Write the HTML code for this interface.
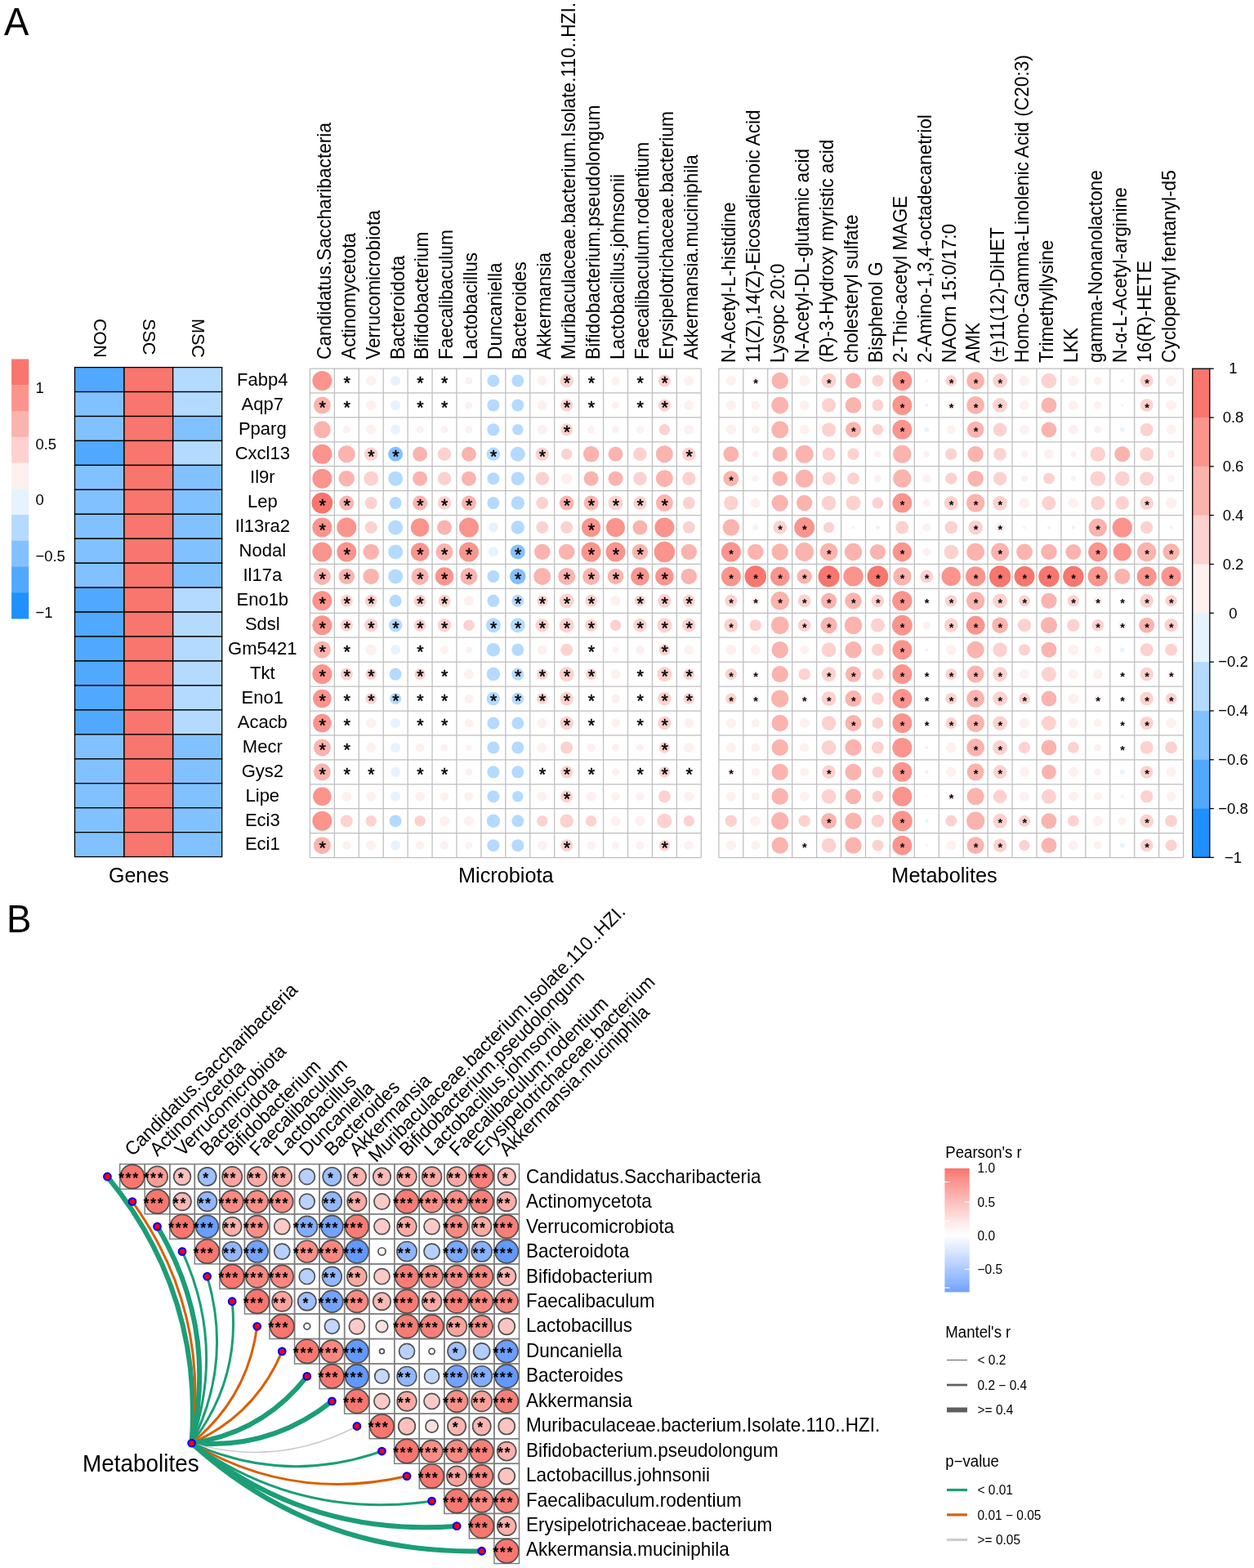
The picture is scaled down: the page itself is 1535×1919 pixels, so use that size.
<!DOCTYPE html><html><head><meta charset="utf-8"><title>Figure</title>
<style>html,body{margin:0;padding:0;background:#fff;}svg{display:block;}text{font-family:"Liberation Sans", Arial, Helvetica, sans-serif;fill:#000;}</style></head><body>
<svg width="1535" height="1919" viewBox="0 0 1535 1919">
<rect x="0" y="0" width="1535" height="1919" fill="#fff"/>
<text transform="translate(5,42.8) scale(1,1.05)" font-size="45.5">A</text>
<text transform="translate(8,1140.6) scale(1,1.05)" font-size="45.5">B</text>
<rect x="14.1" y="439.5" width="21.1" height="32.15" fill="#F8766D"/>
<rect x="14.1" y="471.25" width="21.1" height="32.15" fill="#FA948D"/>
<rect x="14.1" y="503" width="21.1" height="32.15" fill="#FBB3AE"/>
<rect x="14.1" y="534.75" width="21.1" height="32.15" fill="#FDD1CE"/>
<rect x="14.1" y="566.5" width="21.1" height="32.15" fill="#FEF0EF"/>
<rect x="14.1" y="598.25" width="21.1" height="32.15" fill="#E6F3FF"/>
<rect x="14.1" y="630" width="21.1" height="32.15" fill="#B4DAFF"/>
<rect x="14.1" y="661.75" width="21.1" height="32.15" fill="#82C1FF"/>
<rect x="14.1" y="693.5" width="21.1" height="32.15" fill="#50A9FF"/>
<rect x="14.1" y="725.25" width="21.1" height="32.15" fill="#1E90FF"/>
<text transform="translate(43.4,481) scale(1,1.04)" font-size="18.5">1</text>
<text transform="translate(43.4,549.7) scale(1,1.04)" font-size="18.5">0.5</text>
<text transform="translate(43.4,618.4) scale(1,1.04)" font-size="18.5">0</text>
<text transform="translate(43.4,687.1) scale(1,1.04)" font-size="18.5">−0.5</text>
<text transform="translate(43.4,755.8) scale(1,1.04)" font-size="18.5">−1</text>
<g stroke="#000" stroke-width="1.3">
<rect x="91.5" y="449.6" width="60.5" height="29.95" fill="#50A9FF"/>
<rect x="152" y="449.6" width="59.7" height="29.95" fill="#F8766D"/>
<rect x="211.7" y="449.6" width="60" height="29.95" fill="#B4DAFF"/>
<rect x="91.5" y="479.55" width="60.5" height="29.95" fill="#82C1FF"/>
<rect x="152" y="479.55" width="59.7" height="29.95" fill="#F8766D"/>
<rect x="211.7" y="479.55" width="60" height="29.95" fill="#B4DAFF"/>
<rect x="91.5" y="509.5" width="60.5" height="29.95" fill="#82C1FF"/>
<rect x="152" y="509.5" width="59.7" height="29.95" fill="#F8766D"/>
<rect x="211.7" y="509.5" width="60" height="29.95" fill="#82C1FF"/>
<rect x="91.5" y="539.45" width="60.5" height="29.95" fill="#50A9FF"/>
<rect x="152" y="539.45" width="59.7" height="29.95" fill="#F8766D"/>
<rect x="211.7" y="539.45" width="60" height="29.95" fill="#B4DAFF"/>
<rect x="91.5" y="569.4" width="60.5" height="29.95" fill="#82C1FF"/>
<rect x="152" y="569.4" width="59.7" height="29.95" fill="#F8766D"/>
<rect x="211.7" y="569.4" width="60" height="29.95" fill="#82C1FF"/>
<rect x="91.5" y="599.35" width="60.5" height="29.95" fill="#82C1FF"/>
<rect x="152" y="599.35" width="59.7" height="29.95" fill="#F8766D"/>
<rect x="211.7" y="599.35" width="60" height="29.95" fill="#82C1FF"/>
<rect x="91.5" y="629.3" width="60.5" height="29.95" fill="#82C1FF"/>
<rect x="152" y="629.3" width="59.7" height="29.95" fill="#F8766D"/>
<rect x="211.7" y="629.3" width="60" height="29.95" fill="#82C1FF"/>
<rect x="91.5" y="659.25" width="60.5" height="29.95" fill="#82C1FF"/>
<rect x="152" y="659.25" width="59.7" height="29.95" fill="#F8766D"/>
<rect x="211.7" y="659.25" width="60" height="29.95" fill="#82C1FF"/>
<rect x="91.5" y="689.2" width="60.5" height="29.95" fill="#82C1FF"/>
<rect x="152" y="689.2" width="59.7" height="29.95" fill="#F8766D"/>
<rect x="211.7" y="689.2" width="60" height="29.95" fill="#82C1FF"/>
<rect x="91.5" y="719.15" width="60.5" height="29.95" fill="#50A9FF"/>
<rect x="152" y="719.15" width="59.7" height="29.95" fill="#F8766D"/>
<rect x="211.7" y="719.15" width="60" height="29.95" fill="#B4DAFF"/>
<rect x="91.5" y="749.1" width="60.5" height="29.95" fill="#50A9FF"/>
<rect x="152" y="749.1" width="59.7" height="29.95" fill="#F8766D"/>
<rect x="211.7" y="749.1" width="60" height="29.95" fill="#B4DAFF"/>
<rect x="91.5" y="779.05" width="60.5" height="29.95" fill="#50A9FF"/>
<rect x="152" y="779.05" width="59.7" height="29.95" fill="#F8766D"/>
<rect x="211.7" y="779.05" width="60" height="29.95" fill="#B4DAFF"/>
<rect x="91.5" y="809" width="60.5" height="29.95" fill="#50A9FF"/>
<rect x="152" y="809" width="59.7" height="29.95" fill="#F8766D"/>
<rect x="211.7" y="809" width="60" height="29.95" fill="#B4DAFF"/>
<rect x="91.5" y="838.95" width="60.5" height="29.95" fill="#50A9FF"/>
<rect x="152" y="838.95" width="59.7" height="29.95" fill="#F8766D"/>
<rect x="211.7" y="838.95" width="60" height="29.95" fill="#B4DAFF"/>
<rect x="91.5" y="868.9" width="60.5" height="29.95" fill="#50A9FF"/>
<rect x="152" y="868.9" width="59.7" height="29.95" fill="#F8766D"/>
<rect x="211.7" y="868.9" width="60" height="29.95" fill="#B4DAFF"/>
<rect x="91.5" y="898.85" width="60.5" height="29.95" fill="#82C1FF"/>
<rect x="152" y="898.85" width="59.7" height="29.95" fill="#F8766D"/>
<rect x="211.7" y="898.85" width="60" height="29.95" fill="#82C1FF"/>
<rect x="91.5" y="928.8" width="60.5" height="29.95" fill="#82C1FF"/>
<rect x="152" y="928.8" width="59.7" height="29.95" fill="#F8766D"/>
<rect x="211.7" y="928.8" width="60" height="29.95" fill="#82C1FF"/>
<rect x="91.5" y="958.75" width="60.5" height="29.95" fill="#82C1FF"/>
<rect x="152" y="958.75" width="59.7" height="29.95" fill="#F8766D"/>
<rect x="211.7" y="958.75" width="60" height="29.95" fill="#82C1FF"/>
<rect x="91.5" y="988.7" width="60.5" height="29.95" fill="#82C1FF"/>
<rect x="152" y="988.7" width="59.7" height="29.95" fill="#F8766D"/>
<rect x="211.7" y="988.7" width="60" height="29.95" fill="#82C1FF"/>
<rect x="91.5" y="1018.65" width="60.5" height="29.95" fill="#82C1FF"/>
<rect x="152" y="1018.65" width="59.7" height="29.95" fill="#F8766D"/>
<rect x="211.7" y="1018.65" width="60" height="29.95" fill="#82C1FF"/>
</g>
<text transform="translate(114.75,390) rotate(90) scale(1,1.04)" font-size="21.6">CON</text>
<text transform="translate(174.85,390) rotate(90) scale(1,1.04)" font-size="21.6">SSC</text>
<text transform="translate(234.7,390) rotate(90) scale(1,1.04)" font-size="21.6">MSC</text>
<text transform="translate(321.3,471.76) scale(1,1.04)" font-size="22" text-anchor="middle">Fabp4</text>
<text transform="translate(321.3,501.69) scale(1,1.04)" font-size="22" text-anchor="middle">Aqp7</text>
<text transform="translate(321.3,531.62) scale(1,1.04)" font-size="22" text-anchor="middle">Pparg</text>
<text transform="translate(321.3,561.55) scale(1,1.04)" font-size="22" text-anchor="middle">Cxcl13</text>
<text transform="translate(321.3,591.48) scale(1,1.04)" font-size="22" text-anchor="middle">Il9r</text>
<text transform="translate(321.3,621.41) scale(1,1.04)" font-size="22" text-anchor="middle">Lep</text>
<text transform="translate(321.3,651.34) scale(1,1.04)" font-size="22" text-anchor="middle">Il13ra2</text>
<text transform="translate(321.3,681.27) scale(1,1.04)" font-size="22" text-anchor="middle">Nodal</text>
<text transform="translate(321.3,711.2) scale(1,1.04)" font-size="22" text-anchor="middle">Il17a</text>
<text transform="translate(321.3,741.13) scale(1,1.04)" font-size="22" text-anchor="middle">Eno1b</text>
<text transform="translate(321.3,771.06) scale(1,1.04)" font-size="22" text-anchor="middle">Sdsl</text>
<text transform="translate(321.3,800.99) scale(1,1.04)" font-size="22" text-anchor="middle">Gm5421</text>
<text transform="translate(321.3,830.92) scale(1,1.04)" font-size="22" text-anchor="middle">Tkt</text>
<text transform="translate(321.3,860.86) scale(1,1.04)" font-size="22" text-anchor="middle">Eno1</text>
<text transform="translate(321.3,890.78) scale(1,1.04)" font-size="22" text-anchor="middle">Acacb</text>
<text transform="translate(321.3,920.71) scale(1,1.04)" font-size="22" text-anchor="middle">Mecr</text>
<text transform="translate(321.3,950.64) scale(1,1.04)" font-size="22" text-anchor="middle">Gys2</text>
<text transform="translate(321.3,980.57) scale(1,1.04)" font-size="22" text-anchor="middle">Lipe</text>
<text transform="translate(321.3,1010.5) scale(1,1.04)" font-size="22" text-anchor="middle">Eci3</text>
<text transform="translate(321.3,1040.43) scale(1,1.04)" font-size="22" text-anchor="middle">Eci1</text>
<text transform="translate(169.8,1080) scale(1,1.04)" font-size="25" text-anchor="middle">Genes</text>
<circle cx="394.36" cy="465.96" r="12" fill="#FA948D"/>
<circle cx="424.29" cy="465.96" r="3" fill="#FEF0EF"/>
<circle cx="454.22" cy="465.96" r="6" fill="#FEF0EF"/>
<circle cx="484.15" cy="465.96" r="6" fill="#E6F3FF"/>
<circle cx="514.09" cy="465.96" r="3" fill="#FEF0EF"/>
<circle cx="544.01" cy="465.96" r="3" fill="#FEF0EF"/>
<circle cx="573.94" cy="465.96" r="4.5" fill="#FEF0EF"/>
<circle cx="603.88" cy="465.96" r="7.5" fill="#B4DAFF"/>
<circle cx="633.8" cy="465.96" r="7.5" fill="#B4DAFF"/>
<circle cx="663.73" cy="465.96" r="6" fill="#FEF0EF"/>
<circle cx="693.66" cy="465.96" r="8.25" fill="#FDD1CE"/>
<circle cx="723.6" cy="465.96" r="3" fill="#FEF0EF"/>
<circle cx="753.52" cy="465.96" r="5.25" fill="#FEF0EF"/>
<circle cx="783.45" cy="465.96" r="1.5" fill="#FEF0EF"/>
<circle cx="813.38" cy="465.96" r="7.5" fill="#FDD1CE"/>
<circle cx="843.32" cy="465.96" r="6" fill="#FEF0EF"/>
<circle cx="394.36" cy="495.89" r="10.5" fill="#FBB3AE"/>
<circle cx="424.29" cy="495.89" r="1.5" fill="#FEF0EF"/>
<circle cx="454.22" cy="495.89" r="6" fill="#FEF0EF"/>
<circle cx="484.15" cy="495.89" r="6" fill="#E6F3FF"/>
<circle cx="514.09" cy="495.89" r="1.5" fill="#FEF0EF"/>
<circle cx="544.01" cy="495.89" r="1.5" fill="#FEF0EF"/>
<circle cx="573.94" cy="495.89" r="4.5" fill="#FEF0EF"/>
<circle cx="603.88" cy="495.89" r="7.5" fill="#B4DAFF"/>
<circle cx="633.8" cy="495.89" r="7.5" fill="#B4DAFF"/>
<circle cx="663.73" cy="495.89" r="6" fill="#FEF0EF"/>
<circle cx="693.66" cy="495.89" r="7.5" fill="#FDD1CE"/>
<circle cx="723.6" cy="495.89" r="1.5" fill="#FEF0EF"/>
<circle cx="753.52" cy="495.89" r="4.5" fill="#FEF0EF"/>
<circle cx="783.45" cy="495.89" r="1.5" fill="#FEF0EF"/>
<circle cx="813.38" cy="495.89" r="7.5" fill="#FDD1CE"/>
<circle cx="843.32" cy="495.89" r="6" fill="#FEF0EF"/>
<circle cx="394.36" cy="525.83" r="10.5" fill="#FBB3AE"/>
<circle cx="424.29" cy="525.83" r="4.5" fill="#FEF0EF"/>
<circle cx="454.22" cy="525.83" r="6" fill="#FEF0EF"/>
<circle cx="484.15" cy="525.83" r="6" fill="#E6F3FF"/>
<circle cx="514.09" cy="525.83" r="4.5" fill="#FEF0EF"/>
<circle cx="544.01" cy="525.83" r="4.5" fill="#FEF0EF"/>
<circle cx="573.94" cy="525.83" r="4.5" fill="#FEF0EF"/>
<circle cx="603.88" cy="525.83" r="7.5" fill="#B4DAFF"/>
<circle cx="633.8" cy="525.83" r="6.75" fill="#B4DAFF"/>
<circle cx="663.73" cy="525.83" r="6" fill="#FEF0EF"/>
<circle cx="693.66" cy="525.83" r="7.5" fill="#FDD1CE"/>
<circle cx="723.6" cy="525.83" r="4.5" fill="#FEF0EF"/>
<circle cx="753.52" cy="525.83" r="4.5" fill="#FEF0EF"/>
<circle cx="783.45" cy="525.83" r="4.5" fill="#FEF0EF"/>
<circle cx="813.38" cy="525.83" r="6.75" fill="#FDD1CE"/>
<circle cx="843.32" cy="525.83" r="6" fill="#FEF0EF"/>
<circle cx="394.36" cy="555.75" r="12" fill="#FA948D"/>
<circle cx="424.29" cy="555.75" r="10.5" fill="#FBB3AE"/>
<circle cx="454.22" cy="555.75" r="8.25" fill="#FDD1CE"/>
<circle cx="484.15" cy="555.75" r="9" fill="#82C1FF"/>
<circle cx="514.09" cy="555.75" r="9" fill="#FBB3AE"/>
<circle cx="544.01" cy="555.75" r="8.25" fill="#FDD1CE"/>
<circle cx="573.94" cy="555.75" r="9" fill="#FBB3AE"/>
<circle cx="603.88" cy="555.75" r="8.25" fill="#B4DAFF"/>
<circle cx="633.8" cy="555.75" r="9" fill="#B4DAFF"/>
<circle cx="663.73" cy="555.75" r="8.25" fill="#FDD1CE"/>
<circle cx="693.66" cy="555.75" r="6.75" fill="#FDD1CE"/>
<circle cx="723.6" cy="555.75" r="9.75" fill="#FBB3AE"/>
<circle cx="753.52" cy="555.75" r="9" fill="#FBB3AE"/>
<circle cx="783.45" cy="555.75" r="8.25" fill="#FDD1CE"/>
<circle cx="813.38" cy="555.75" r="10.5" fill="#FBB3AE"/>
<circle cx="843.32" cy="555.75" r="8.25" fill="#FDD1CE"/>
<circle cx="394.36" cy="585.68" r="12" fill="#FA948D"/>
<circle cx="424.29" cy="585.68" r="9.75" fill="#FBB3AE"/>
<circle cx="454.22" cy="585.68" r="9" fill="#FDD1CE"/>
<circle cx="484.15" cy="585.68" r="9" fill="#B4DAFF"/>
<circle cx="514.09" cy="585.68" r="9" fill="#FBB3AE"/>
<circle cx="544.01" cy="585.68" r="8.25" fill="#FDD1CE"/>
<circle cx="573.94" cy="585.68" r="9" fill="#FBB3AE"/>
<circle cx="603.88" cy="585.68" r="7.5" fill="#B4DAFF"/>
<circle cx="633.8" cy="585.68" r="8.25" fill="#B4DAFF"/>
<circle cx="663.73" cy="585.68" r="8.25" fill="#FDD1CE"/>
<circle cx="693.66" cy="585.68" r="6.75" fill="#FEF0EF"/>
<circle cx="723.6" cy="585.68" r="9" fill="#FBB3AE"/>
<circle cx="753.52" cy="585.68" r="9" fill="#FBB3AE"/>
<circle cx="783.45" cy="585.68" r="8.25" fill="#FDD1CE"/>
<circle cx="813.38" cy="585.68" r="10.5" fill="#FBB3AE"/>
<circle cx="843.32" cy="585.68" r="8.25" fill="#FDD1CE"/>
<circle cx="394.36" cy="615.62" r="12.9" fill="#F8766D"/>
<circle cx="424.29" cy="615.62" r="9" fill="#FBB3AE"/>
<circle cx="454.22" cy="615.62" r="7.5" fill="#FDD1CE"/>
<circle cx="484.15" cy="615.62" r="7.5" fill="#B4DAFF"/>
<circle cx="514.09" cy="615.62" r="9" fill="#FBB3AE"/>
<circle cx="544.01" cy="615.62" r="8.25" fill="#FDD1CE"/>
<circle cx="573.94" cy="615.62" r="9" fill="#FBB3AE"/>
<circle cx="603.88" cy="615.62" r="7.5" fill="#B4DAFF"/>
<circle cx="633.8" cy="615.62" r="8.25" fill="#B4DAFF"/>
<circle cx="663.73" cy="615.62" r="7.5" fill="#FDD1CE"/>
<circle cx="693.66" cy="615.62" r="9" fill="#FBB3AE"/>
<circle cx="723.6" cy="615.62" r="9" fill="#FBB3AE"/>
<circle cx="753.52" cy="615.62" r="9" fill="#FDD1CE"/>
<circle cx="783.45" cy="615.62" r="8.25" fill="#FDD1CE"/>
<circle cx="813.38" cy="615.62" r="10.5" fill="#FBB3AE"/>
<circle cx="843.32" cy="615.62" r="7.5" fill="#FDD1CE"/>
<circle cx="394.36" cy="645.54" r="12" fill="#FA948D"/>
<circle cx="424.29" cy="645.54" r="12" fill="#FA948D"/>
<circle cx="454.22" cy="645.54" r="7.5" fill="#FDD1CE"/>
<circle cx="484.15" cy="645.54" r="9" fill="#B4DAFF"/>
<circle cx="514.09" cy="645.54" r="11.25" fill="#FA948D"/>
<circle cx="544.01" cy="645.54" r="9" fill="#FBB3AE"/>
<circle cx="573.94" cy="645.54" r="12" fill="#FA948D"/>
<circle cx="603.88" cy="645.54" r="6" fill="#E6F3FF"/>
<circle cx="633.8" cy="645.54" r="8.25" fill="#B4DAFF"/>
<circle cx="663.73" cy="645.54" r="7.5" fill="#FDD1CE"/>
<circle cx="693.66" cy="645.54" r="7.5" fill="#FDD1CE"/>
<circle cx="723.6" cy="645.54" r="11.55" fill="#FA948D"/>
<circle cx="753.52" cy="645.54" r="11.55" fill="#FA948D"/>
<circle cx="783.45" cy="645.54" r="9" fill="#FBB3AE"/>
<circle cx="813.38" cy="645.54" r="12" fill="#FA948D"/>
<circle cx="843.32" cy="645.54" r="7.5" fill="#FDD1CE"/>
<circle cx="394.36" cy="675.48" r="12" fill="#FA948D"/>
<circle cx="424.29" cy="675.48" r="12" fill="#FA948D"/>
<circle cx="454.22" cy="675.48" r="9.75" fill="#FBB3AE"/>
<circle cx="484.15" cy="675.48" r="9" fill="#B4DAFF"/>
<circle cx="514.09" cy="675.48" r="11.25" fill="#FA948D"/>
<circle cx="544.01" cy="675.48" r="10.5" fill="#FBB3AE"/>
<circle cx="573.94" cy="675.48" r="12" fill="#FA948D"/>
<circle cx="603.88" cy="675.48" r="6" fill="#E6F3FF"/>
<circle cx="633.8" cy="675.48" r="9" fill="#82C1FF"/>
<circle cx="663.73" cy="675.48" r="9.75" fill="#FBB3AE"/>
<circle cx="693.66" cy="675.48" r="9.75" fill="#FBB3AE"/>
<circle cx="723.6" cy="675.48" r="12" fill="#FA948D"/>
<circle cx="753.52" cy="675.48" r="12" fill="#FA948D"/>
<circle cx="783.45" cy="675.48" r="9.75" fill="#FBB3AE"/>
<circle cx="813.38" cy="675.48" r="12.75" fill="#FA948D"/>
<circle cx="843.32" cy="675.48" r="9.75" fill="#FBB3AE"/>
<circle cx="394.36" cy="705.4" r="10.5" fill="#FBB3AE"/>
<circle cx="424.29" cy="705.4" r="9.75" fill="#FBB3AE"/>
<circle cx="454.22" cy="705.4" r="9.75" fill="#FBB3AE"/>
<circle cx="484.15" cy="705.4" r="9" fill="#B4DAFF"/>
<circle cx="514.09" cy="705.4" r="10.5" fill="#FBB3AE"/>
<circle cx="544.01" cy="705.4" r="11.25" fill="#FA948D"/>
<circle cx="573.94" cy="705.4" r="10.5" fill="#FBB3AE"/>
<circle cx="603.88" cy="705.4" r="7.5" fill="#B4DAFF"/>
<circle cx="633.8" cy="705.4" r="9.75" fill="#82C1FF"/>
<circle cx="663.73" cy="705.4" r="10.5" fill="#FBB3AE"/>
<circle cx="693.66" cy="705.4" r="10.5" fill="#FBB3AE"/>
<circle cx="723.6" cy="705.4" r="10.5" fill="#FBB3AE"/>
<circle cx="753.52" cy="705.4" r="9.75" fill="#FBB3AE"/>
<circle cx="783.45" cy="705.4" r="11.25" fill="#FA948D"/>
<circle cx="813.38" cy="705.4" r="11.25" fill="#FA948D"/>
<circle cx="843.32" cy="705.4" r="9.75" fill="#FBB3AE"/>
<circle cx="394.36" cy="735.34" r="12" fill="#FA948D"/>
<circle cx="424.29" cy="735.34" r="7.5" fill="#FDD1CE"/>
<circle cx="454.22" cy="735.34" r="7.5" fill="#FDD1CE"/>
<circle cx="484.15" cy="735.34" r="7.5" fill="#B4DAFF"/>
<circle cx="514.09" cy="735.34" r="7.5" fill="#FDD1CE"/>
<circle cx="544.01" cy="735.34" r="7.5" fill="#FDD1CE"/>
<circle cx="573.94" cy="735.34" r="6" fill="#FEF0EF"/>
<circle cx="603.88" cy="735.34" r="7.5" fill="#B4DAFF"/>
<circle cx="633.8" cy="735.34" r="7.5" fill="#B4DAFF"/>
<circle cx="663.73" cy="735.34" r="6.75" fill="#FDD1CE"/>
<circle cx="693.66" cy="735.34" r="9" fill="#FDD1CE"/>
<circle cx="723.6" cy="735.34" r="7.5" fill="#FDD1CE"/>
<circle cx="753.52" cy="735.34" r="6" fill="#FEF0EF"/>
<circle cx="783.45" cy="735.34" r="6.75" fill="#FDD1CE"/>
<circle cx="813.38" cy="735.34" r="8.25" fill="#FDD1CE"/>
<circle cx="843.32" cy="735.34" r="7.5" fill="#FDD1CE"/>
<circle cx="394.36" cy="765.26" r="12" fill="#FA948D"/>
<circle cx="424.29" cy="765.26" r="7.5" fill="#FDD1CE"/>
<circle cx="454.22" cy="765.26" r="8.25" fill="#FDD1CE"/>
<circle cx="484.15" cy="765.26" r="8.25" fill="#B4DAFF"/>
<circle cx="514.09" cy="765.26" r="7.5" fill="#FDD1CE"/>
<circle cx="544.01" cy="765.26" r="8.25" fill="#FDD1CE"/>
<circle cx="573.94" cy="765.26" r="6.75" fill="#FDD1CE"/>
<circle cx="603.88" cy="765.26" r="9" fill="#B4DAFF"/>
<circle cx="633.8" cy="765.26" r="9" fill="#B4DAFF"/>
<circle cx="663.73" cy="765.26" r="8.25" fill="#FDD1CE"/>
<circle cx="693.66" cy="765.26" r="9" fill="#FDD1CE"/>
<circle cx="723.6" cy="765.26" r="7.5" fill="#FDD1CE"/>
<circle cx="753.52" cy="765.26" r="6.75" fill="#FDD1CE"/>
<circle cx="783.45" cy="765.26" r="8.25" fill="#FDD1CE"/>
<circle cx="813.38" cy="765.26" r="9" fill="#FDD1CE"/>
<circle cx="843.32" cy="765.26" r="8.25" fill="#FDD1CE"/>
<circle cx="394.36" cy="795.19" r="10.5" fill="#FBB3AE"/>
<circle cx="424.29" cy="795.19" r="1.5" fill="#FEF0EF"/>
<circle cx="454.22" cy="795.19" r="6.75" fill="#FEF0EF"/>
<circle cx="484.15" cy="795.19" r="6" fill="#E6F3FF"/>
<circle cx="514.09" cy="795.19" r="1.5" fill="#FEF0EF"/>
<circle cx="544.01" cy="795.19" r="5.25" fill="#FEF0EF"/>
<circle cx="573.94" cy="795.19" r="3.75" fill="#FEF0EF"/>
<circle cx="603.88" cy="795.19" r="8.25" fill="#B4DAFF"/>
<circle cx="633.8" cy="795.19" r="7.5" fill="#B4DAFF"/>
<circle cx="663.73" cy="795.19" r="6" fill="#FEF0EF"/>
<circle cx="693.66" cy="795.19" r="7.5" fill="#FDD1CE"/>
<circle cx="723.6" cy="795.19" r="1.5" fill="#FEF0EF"/>
<circle cx="753.52" cy="795.19" r="3.75" fill="#FEF0EF"/>
<circle cx="783.45" cy="795.19" r="5.25" fill="#FEF0EF"/>
<circle cx="813.38" cy="795.19" r="6.75" fill="#FDD1CE"/>
<circle cx="843.32" cy="795.19" r="6" fill="#FEF0EF"/>
<circle cx="394.36" cy="825.12" r="12" fill="#FA948D"/>
<circle cx="424.29" cy="825.12" r="7.5" fill="#FDD1CE"/>
<circle cx="454.22" cy="825.12" r="6.75" fill="#FDD1CE"/>
<circle cx="484.15" cy="825.12" r="7.5" fill="#B4DAFF"/>
<circle cx="514.09" cy="825.12" r="6.75" fill="#FDD1CE"/>
<circle cx="544.01" cy="825.12" r="3" fill="#FEF0EF"/>
<circle cx="573.94" cy="825.12" r="6" fill="#FEF0EF"/>
<circle cx="603.88" cy="825.12" r="8.25" fill="#B4DAFF"/>
<circle cx="633.8" cy="825.12" r="7.5" fill="#B4DAFF"/>
<circle cx="663.73" cy="825.12" r="6.75" fill="#FDD1CE"/>
<circle cx="693.66" cy="825.12" r="9" fill="#FDD1CE"/>
<circle cx="723.6" cy="825.12" r="6.75" fill="#FDD1CE"/>
<circle cx="753.52" cy="825.12" r="6" fill="#FEF0EF"/>
<circle cx="783.45" cy="825.12" r="3" fill="#FEF0EF"/>
<circle cx="813.38" cy="825.12" r="9" fill="#FDD1CE"/>
<circle cx="843.32" cy="825.12" r="6.75" fill="#FDD1CE"/>
<circle cx="394.36" cy="855.06" r="11.25" fill="#FA948D"/>
<circle cx="424.29" cy="855.06" r="3" fill="#FEF0EF"/>
<circle cx="454.22" cy="855.06" r="6.75" fill="#FDD1CE"/>
<circle cx="484.15" cy="855.06" r="7.05" fill="#B4DAFF"/>
<circle cx="514.09" cy="855.06" r="3" fill="#FEF0EF"/>
<circle cx="544.01" cy="855.06" r="3" fill="#FEF0EF"/>
<circle cx="573.94" cy="855.06" r="5.25" fill="#FEF0EF"/>
<circle cx="603.88" cy="855.06" r="8.25" fill="#B4DAFF"/>
<circle cx="633.8" cy="855.06" r="7.5" fill="#B4DAFF"/>
<circle cx="663.73" cy="855.06" r="6.75" fill="#FDD1CE"/>
<circle cx="693.66" cy="855.06" r="8.25" fill="#FDD1CE"/>
<circle cx="723.6" cy="855.06" r="3" fill="#FEF0EF"/>
<circle cx="753.52" cy="855.06" r="5.25" fill="#FEF0EF"/>
<circle cx="783.45" cy="855.06" r="3" fill="#FEF0EF"/>
<circle cx="813.38" cy="855.06" r="8.25" fill="#FDD1CE"/>
<circle cx="843.32" cy="855.06" r="6.75" fill="#FDD1CE"/>
<circle cx="394.36" cy="884.99" r="11.25" fill="#FA948D"/>
<circle cx="424.29" cy="884.99" r="2.25" fill="#FEF0EF"/>
<circle cx="454.22" cy="884.99" r="6" fill="#FEF0EF"/>
<circle cx="484.15" cy="884.99" r="6" fill="#E6F3FF"/>
<circle cx="514.09" cy="884.99" r="1.5" fill="#FEF0EF"/>
<circle cx="544.01" cy="884.99" r="1.5" fill="#FEF0EF"/>
<circle cx="573.94" cy="884.99" r="5.25" fill="#FEF0EF"/>
<circle cx="603.88" cy="884.99" r="7.5" fill="#B4DAFF"/>
<circle cx="633.8" cy="884.99" r="7.5" fill="#B4DAFF"/>
<circle cx="663.73" cy="884.99" r="6" fill="#FEF0EF"/>
<circle cx="693.66" cy="884.99" r="8.25" fill="#FDD1CE"/>
<circle cx="723.6" cy="884.99" r="3" fill="#FEF0EF"/>
<circle cx="753.52" cy="884.99" r="5.25" fill="#FEF0EF"/>
<circle cx="783.45" cy="884.99" r="1.5" fill="#FEF0EF"/>
<circle cx="813.38" cy="884.99" r="8.25" fill="#FDD1CE"/>
<circle cx="843.32" cy="884.99" r="6" fill="#FEF0EF"/>
<circle cx="394.36" cy="914.91" r="10.5" fill="#FBB3AE"/>
<circle cx="424.29" cy="914.91" r="1.5" fill="#FEF0EF"/>
<circle cx="454.22" cy="914.91" r="6" fill="#FEF0EF"/>
<circle cx="484.15" cy="914.91" r="6" fill="#E6F3FF"/>
<circle cx="514.09" cy="914.91" r="5.25" fill="#FEF0EF"/>
<circle cx="544.01" cy="914.91" r="4.5" fill="#FEF0EF"/>
<circle cx="573.94" cy="914.91" r="3.75" fill="#FEF0EF"/>
<circle cx="603.88" cy="914.91" r="7.5" fill="#B4DAFF"/>
<circle cx="633.8" cy="914.91" r="7.5" fill="#B4DAFF"/>
<circle cx="663.73" cy="914.91" r="6" fill="#FEF0EF"/>
<circle cx="693.66" cy="914.91" r="7.5" fill="#FDD1CE"/>
<circle cx="723.6" cy="914.91" r="5.25" fill="#FEF0EF"/>
<circle cx="753.52" cy="914.91" r="4.5" fill="#FEF0EF"/>
<circle cx="783.45" cy="914.91" r="4.5" fill="#FEF0EF"/>
<circle cx="813.38" cy="914.91" r="6.75" fill="#FDD1CE"/>
<circle cx="843.32" cy="914.91" r="6" fill="#FEF0EF"/>
<circle cx="394.36" cy="944.85" r="10.5" fill="#FBB3AE"/>
<circle cx="424.29" cy="944.85" r="1.5" fill="#FEF0EF"/>
<circle cx="454.22" cy="944.85" r="1.5" fill="#FEF0EF"/>
<circle cx="484.15" cy="944.85" r="6" fill="#E6F3FF"/>
<circle cx="514.09" cy="944.85" r="1.5" fill="#FEF0EF"/>
<circle cx="544.01" cy="944.85" r="1.5" fill="#FEF0EF"/>
<circle cx="573.94" cy="944.85" r="4.5" fill="#FEF0EF"/>
<circle cx="603.88" cy="944.85" r="7.5" fill="#B4DAFF"/>
<circle cx="633.8" cy="944.85" r="7.5" fill="#B4DAFF"/>
<circle cx="663.73" cy="944.85" r="1.5" fill="#FEF0EF"/>
<circle cx="693.66" cy="944.85" r="7.5" fill="#FDD1CE"/>
<circle cx="723.6" cy="944.85" r="1.5" fill="#FEF0EF"/>
<circle cx="753.52" cy="944.85" r="4.5" fill="#FEF0EF"/>
<circle cx="783.45" cy="944.85" r="1.5" fill="#FEF0EF"/>
<circle cx="813.38" cy="944.85" r="6.75" fill="#FDD1CE"/>
<circle cx="843.32" cy="944.85" r="1.5" fill="#FEF0EF"/>
<circle cx="394.36" cy="974.77" r="11.25" fill="#FA948D"/>
<circle cx="424.29" cy="974.77" r="6" fill="#FEF0EF"/>
<circle cx="454.22" cy="974.77" r="6" fill="#FEF0EF"/>
<circle cx="484.15" cy="974.77" r="6" fill="#E6F3FF"/>
<circle cx="514.09" cy="974.77" r="6" fill="#FEF0EF"/>
<circle cx="544.01" cy="974.77" r="5.25" fill="#FEF0EF"/>
<circle cx="573.94" cy="974.77" r="5.25" fill="#FEF0EF"/>
<circle cx="603.88" cy="974.77" r="7.5" fill="#B4DAFF"/>
<circle cx="633.8" cy="974.77" r="6.75" fill="#B4DAFF"/>
<circle cx="663.73" cy="974.77" r="6" fill="#FEF0EF"/>
<circle cx="693.66" cy="974.77" r="7.5" fill="#FDD1CE"/>
<circle cx="723.6" cy="974.77" r="6" fill="#FEF0EF"/>
<circle cx="753.52" cy="974.77" r="5.25" fill="#FEF0EF"/>
<circle cx="783.45" cy="974.77" r="5.25" fill="#FEF0EF"/>
<circle cx="813.38" cy="974.77" r="7.5" fill="#FDD1CE"/>
<circle cx="843.32" cy="974.77" r="6" fill="#FEF0EF"/>
<circle cx="394.36" cy="1004.71" r="12" fill="#FA948D"/>
<circle cx="424.29" cy="1004.71" r="7.5" fill="#FDD1CE"/>
<circle cx="454.22" cy="1004.71" r="6.75" fill="#FDD1CE"/>
<circle cx="484.15" cy="1004.71" r="7.5" fill="#B4DAFF"/>
<circle cx="514.09" cy="1004.71" r="6.75" fill="#FDD1CE"/>
<circle cx="544.01" cy="1004.71" r="6" fill="#FEF0EF"/>
<circle cx="573.94" cy="1004.71" r="6" fill="#FEF0EF"/>
<circle cx="603.88" cy="1004.71" r="8.25" fill="#B4DAFF"/>
<circle cx="633.8" cy="1004.71" r="7.5" fill="#B4DAFF"/>
<circle cx="663.73" cy="1004.71" r="6.75" fill="#FDD1CE"/>
<circle cx="693.66" cy="1004.71" r="8.25" fill="#FDD1CE"/>
<circle cx="723.6" cy="1004.71" r="6.75" fill="#FDD1CE"/>
<circle cx="753.52" cy="1004.71" r="6" fill="#FEF0EF"/>
<circle cx="783.45" cy="1004.71" r="6" fill="#FEF0EF"/>
<circle cx="813.38" cy="1004.71" r="9" fill="#FDD1CE"/>
<circle cx="843.32" cy="1004.71" r="6.75" fill="#FDD1CE"/>
<circle cx="394.36" cy="1034.63" r="10.5" fill="#FBB3AE"/>
<circle cx="424.29" cy="1034.63" r="5.25" fill="#FEF0EF"/>
<circle cx="454.22" cy="1034.63" r="6" fill="#FEF0EF"/>
<circle cx="484.15" cy="1034.63" r="6" fill="#E6F3FF"/>
<circle cx="514.09" cy="1034.63" r="5.25" fill="#FEF0EF"/>
<circle cx="544.01" cy="1034.63" r="5.25" fill="#FEF0EF"/>
<circle cx="573.94" cy="1034.63" r="4.5" fill="#FEF0EF"/>
<circle cx="603.88" cy="1034.63" r="7.5" fill="#B4DAFF"/>
<circle cx="633.8" cy="1034.63" r="7.5" fill="#B4DAFF"/>
<circle cx="663.73" cy="1034.63" r="6" fill="#FEF0EF"/>
<circle cx="693.66" cy="1034.63" r="7.5" fill="#FDD1CE"/>
<circle cx="723.6" cy="1034.63" r="5.25" fill="#FEF0EF"/>
<circle cx="753.52" cy="1034.63" r="4.5" fill="#FEF0EF"/>
<circle cx="783.45" cy="1034.63" r="5.25" fill="#FEF0EF"/>
<circle cx="813.38" cy="1034.63" r="6.75" fill="#FDD1CE"/>
<circle cx="843.32" cy="1034.63" r="6" fill="#FEF0EF"/>
<g stroke="#BEBEBE" stroke-width="1.25" fill="none">
<line x1="379.4" y1="451" x2="379.4" y2="1049.6"/>
<line x1="409.33" y1="451" x2="409.33" y2="1049.6"/>
<line x1="439.26" y1="451" x2="439.26" y2="1049.6"/>
<line x1="469.19" y1="451" x2="469.19" y2="1049.6"/>
<line x1="499.12" y1="451" x2="499.12" y2="1049.6"/>
<line x1="529.05" y1="451" x2="529.05" y2="1049.6"/>
<line x1="558.98" y1="451" x2="558.98" y2="1049.6"/>
<line x1="588.91" y1="451" x2="588.91" y2="1049.6"/>
<line x1="618.84" y1="451" x2="618.84" y2="1049.6"/>
<line x1="648.77" y1="451" x2="648.77" y2="1049.6"/>
<line x1="678.7" y1="451" x2="678.7" y2="1049.6"/>
<line x1="708.63" y1="451" x2="708.63" y2="1049.6"/>
<line x1="738.56" y1="451" x2="738.56" y2="1049.6"/>
<line x1="768.49" y1="451" x2="768.49" y2="1049.6"/>
<line x1="798.42" y1="451" x2="798.42" y2="1049.6"/>
<line x1="828.35" y1="451" x2="828.35" y2="1049.6"/>
<line x1="858.28" y1="451" x2="858.28" y2="1049.6"/>
<line x1="379.4" y1="451" x2="858.28" y2="451"/>
<line x1="379.4" y1="480.93" x2="858.28" y2="480.93"/>
<line x1="379.4" y1="510.86" x2="858.28" y2="510.86"/>
<line x1="379.4" y1="540.79" x2="858.28" y2="540.79"/>
<line x1="379.4" y1="570.72" x2="858.28" y2="570.72"/>
<line x1="379.4" y1="600.65" x2="858.28" y2="600.65"/>
<line x1="379.4" y1="630.58" x2="858.28" y2="630.58"/>
<line x1="379.4" y1="660.51" x2="858.28" y2="660.51"/>
<line x1="379.4" y1="690.44" x2="858.28" y2="690.44"/>
<line x1="379.4" y1="720.37" x2="858.28" y2="720.37"/>
<line x1="379.4" y1="750.3" x2="858.28" y2="750.3"/>
<line x1="379.4" y1="780.23" x2="858.28" y2="780.23"/>
<line x1="379.4" y1="810.16" x2="858.28" y2="810.16"/>
<line x1="379.4" y1="840.09" x2="858.28" y2="840.09"/>
<line x1="379.4" y1="870.02" x2="858.28" y2="870.02"/>
<line x1="379.4" y1="899.95" x2="858.28" y2="899.95"/>
<line x1="379.4" y1="929.88" x2="858.28" y2="929.88"/>
<line x1="379.4" y1="959.81" x2="858.28" y2="959.81"/>
<line x1="379.4" y1="989.74" x2="858.28" y2="989.74"/>
<line x1="379.4" y1="1019.67" x2="858.28" y2="1019.67"/>
<line x1="379.4" y1="1049.6" x2="858.28" y2="1049.6"/>
</g>
<g font-size="21.5" text-anchor="middle" stroke="#000" stroke-width="0.45">
<text x="424.59" y="476.26">*</text>
<text x="514.38" y="476.26">*</text>
<text x="544.31" y="476.26">*</text>
<text x="693.96" y="476.26">*</text>
<text x="723.89" y="476.26">*</text>
<text x="783.75" y="476.26">*</text>
<text x="813.68" y="476.26">*</text>
<text x="394.66" y="506.19">*</text>
<text x="424.59" y="506.19">*</text>
<text x="514.38" y="506.19">*</text>
<text x="544.31" y="506.19">*</text>
<text x="693.96" y="506.19">*</text>
<text x="723.89" y="506.19">*</text>
<text x="783.75" y="506.19">*</text>
<text x="813.68" y="506.19">*</text>
<text x="693.96" y="536.12">*</text>
<text x="454.52" y="566.05">*</text>
<text x="484.45" y="566.05">*</text>
<text x="604.17" y="566.05">*</text>
<text x="664.03" y="566.05">*</text>
<text x="843.62" y="566.05">*</text>
<text x="394.66" y="625.91">*</text>
<text x="424.59" y="625.91">*</text>
<text x="514.38" y="625.91">*</text>
<text x="544.31" y="625.91">*</text>
<text x="574.24" y="625.91">*</text>
<text x="693.96" y="625.91">*</text>
<text x="723.89" y="625.91">*</text>
<text x="753.82" y="625.91">*</text>
<text x="783.75" y="625.91">*</text>
<text x="813.68" y="625.91">*</text>
<text x="394.66" y="655.84">*</text>
<text x="723.89" y="655.84">*</text>
<text x="424.59" y="685.77">*</text>
<text x="514.38" y="685.77">*</text>
<text x="544.31" y="685.77">*</text>
<text x="574.24" y="685.77">*</text>
<text x="634.1" y="685.77">*</text>
<text x="723.89" y="685.77">*</text>
<text x="753.82" y="685.77">*</text>
<text x="783.75" y="685.77">*</text>
<text x="394.66" y="715.7">*</text>
<text x="424.59" y="715.7">*</text>
<text x="514.38" y="715.7">*</text>
<text x="544.31" y="715.7">*</text>
<text x="574.24" y="715.7">*</text>
<text x="634.1" y="715.7">*</text>
<text x="693.96" y="715.7">*</text>
<text x="723.89" y="715.7">*</text>
<text x="753.82" y="715.7">*</text>
<text x="783.75" y="715.7">*</text>
<text x="813.68" y="715.7">*</text>
<text x="394.66" y="745.63">*</text>
<text x="424.59" y="745.63">*</text>
<text x="454.52" y="745.63">*</text>
<text x="514.38" y="745.63">*</text>
<text x="544.31" y="745.63">*</text>
<text x="634.1" y="745.63">*</text>
<text x="664.03" y="745.63">*</text>
<text x="693.96" y="745.63">*</text>
<text x="723.89" y="745.63">*</text>
<text x="783.75" y="745.63">*</text>
<text x="813.68" y="745.63">*</text>
<text x="843.62" y="745.63">*</text>
<text x="394.66" y="775.56">*</text>
<text x="424.59" y="775.56">*</text>
<text x="454.52" y="775.56">*</text>
<text x="484.45" y="775.56">*</text>
<text x="514.38" y="775.56">*</text>
<text x="544.31" y="775.56">*</text>
<text x="604.17" y="775.56">*</text>
<text x="634.1" y="775.56">*</text>
<text x="664.03" y="775.56">*</text>
<text x="693.96" y="775.56">*</text>
<text x="723.89" y="775.56">*</text>
<text x="783.75" y="775.56">*</text>
<text x="813.68" y="775.56">*</text>
<text x="843.62" y="775.56">*</text>
<text x="394.66" y="805.49">*</text>
<text x="424.59" y="805.49">*</text>
<text x="514.38" y="805.49">*</text>
<text x="723.89" y="805.49">*</text>
<text x="813.68" y="805.49">*</text>
<text x="394.66" y="835.42">*</text>
<text x="424.59" y="835.42">*</text>
<text x="454.52" y="835.42">*</text>
<text x="514.38" y="835.42">*</text>
<text x="544.31" y="835.42">*</text>
<text x="634.1" y="835.42">*</text>
<text x="664.03" y="835.42">*</text>
<text x="693.96" y="835.42">*</text>
<text x="723.89" y="835.42">*</text>
<text x="783.75" y="835.42">*</text>
<text x="813.68" y="835.42">*</text>
<text x="843.62" y="835.42">*</text>
<text x="394.66" y="865.36">*</text>
<text x="424.59" y="865.36">*</text>
<text x="454.52" y="865.36">*</text>
<text x="484.45" y="865.36">*</text>
<text x="514.38" y="865.36">*</text>
<text x="544.31" y="865.36">*</text>
<text x="604.17" y="865.36">*</text>
<text x="634.1" y="865.36">*</text>
<text x="664.03" y="865.36">*</text>
<text x="693.96" y="865.36">*</text>
<text x="723.89" y="865.36">*</text>
<text x="783.75" y="865.36">*</text>
<text x="813.68" y="865.36">*</text>
<text x="843.62" y="865.36">*</text>
<text x="394.66" y="895.28">*</text>
<text x="424.59" y="895.28">*</text>
<text x="514.38" y="895.28">*</text>
<text x="544.31" y="895.28">*</text>
<text x="693.96" y="895.28">*</text>
<text x="723.89" y="895.28">*</text>
<text x="783.75" y="895.28">*</text>
<text x="813.68" y="895.28">*</text>
<text x="394.66" y="925.21">*</text>
<text x="424.59" y="925.21">*</text>
<text x="813.68" y="925.21">*</text>
<text x="394.66" y="955.14">*</text>
<text x="424.59" y="955.14">*</text>
<text x="454.52" y="955.14">*</text>
<text x="514.38" y="955.14">*</text>
<text x="544.31" y="955.14">*</text>
<text x="664.03" y="955.14">*</text>
<text x="693.96" y="955.14">*</text>
<text x="723.89" y="955.14">*</text>
<text x="783.75" y="955.14">*</text>
<text x="813.68" y="955.14">*</text>
<text x="843.62" y="955.14">*</text>
<text x="693.96" y="985.07">*</text>
<text x="394.66" y="1044.93">*</text>
<text x="693.96" y="1044.93">*</text>
<text x="813.68" y="1044.93">*</text>
</g>
<circle cx="894.87" cy="465.96" r="5.85" fill="#FEF0EF"/>
<circle cx="924.79" cy="465.96" r="4.5" fill="#FEF0EF"/>
<circle cx="954.73" cy="465.96" r="10.2" fill="#FBB3AE"/>
<circle cx="984.65" cy="465.96" r="6.75" fill="#FEF0EF"/>
<circle cx="1014.59" cy="465.96" r="9" fill="#FDD1CE"/>
<circle cx="1044.51" cy="465.96" r="9.6" fill="#FBB3AE"/>
<circle cx="1074.44" cy="465.96" r="7.05" fill="#FDD1CE"/>
<circle cx="1104.38" cy="465.96" r="12" fill="#FA948D"/>
<circle cx="1134.31" cy="465.96" r="1.95" fill="#FEF0EF"/>
<circle cx="1164.23" cy="465.96" r="6.75" fill="#FDD1CE"/>
<circle cx="1194.16" cy="465.96" r="10.8" fill="#FBB3AE"/>
<circle cx="1224.1" cy="465.96" r="8.85" fill="#FDD1CE"/>
<circle cx="1254.03" cy="465.96" r="6.3" fill="#FEF0EF"/>
<circle cx="1283.95" cy="465.96" r="9.3" fill="#FDD1CE"/>
<circle cx="1313.88" cy="465.96" r="6.3" fill="#FEF0EF"/>
<circle cx="1343.82" cy="465.96" r="4.95" fill="#FEF0EF"/>
<circle cx="1373.74" cy="465.96" r="2.4" fill="#FEF0EF"/>
<circle cx="1403.67" cy="465.96" r="7.95" fill="#FDD1CE"/>
<circle cx="1433.61" cy="465.96" r="6.3" fill="#FEF0EF"/>
<circle cx="894.87" cy="495.89" r="6" fill="#FEF0EF"/>
<circle cx="924.79" cy="495.89" r="5.25" fill="#FEF0EF"/>
<circle cx="954.73" cy="495.89" r="10.5" fill="#FBB3AE"/>
<circle cx="984.65" cy="495.89" r="6" fill="#FEF0EF"/>
<circle cx="1014.59" cy="495.89" r="8.55" fill="#FDD1CE"/>
<circle cx="1044.51" cy="495.89" r="9.9" fill="#FBB3AE"/>
<circle cx="1074.44" cy="495.89" r="7.05" fill="#FDD1CE"/>
<circle cx="1104.38" cy="495.89" r="12" fill="#FA948D"/>
<circle cx="1134.31" cy="495.89" r="1.95" fill="#E6F3FF"/>
<circle cx="1164.23" cy="495.89" r="5.25" fill="#FEF0EF"/>
<circle cx="1194.16" cy="495.89" r="10.8" fill="#FBB3AE"/>
<circle cx="1224.1" cy="495.89" r="8.85" fill="#FDD1CE"/>
<circle cx="1254.03" cy="495.89" r="6" fill="#FEF0EF"/>
<circle cx="1283.95" cy="495.89" r="9.45" fill="#FBB3AE"/>
<circle cx="1313.88" cy="495.89" r="6" fill="#FEF0EF"/>
<circle cx="1343.82" cy="495.89" r="4.5" fill="#FEF0EF"/>
<circle cx="1373.74" cy="495.89" r="1.5" fill="#E6F3FF"/>
<circle cx="1403.67" cy="495.89" r="7.95" fill="#FDD1CE"/>
<circle cx="1433.61" cy="495.89" r="6.3" fill="#FEF0EF"/>
<circle cx="894.87" cy="525.83" r="6" fill="#FEF0EF"/>
<circle cx="924.79" cy="525.83" r="4.95" fill="#FEF0EF"/>
<circle cx="954.73" cy="525.83" r="10.5" fill="#FBB3AE"/>
<circle cx="984.65" cy="525.83" r="6" fill="#FEF0EF"/>
<circle cx="1014.59" cy="525.83" r="8.55" fill="#FDD1CE"/>
<circle cx="1044.51" cy="525.83" r="9.6" fill="#FBB3AE"/>
<circle cx="1074.44" cy="525.83" r="6.75" fill="#FDD1CE"/>
<circle cx="1104.38" cy="525.83" r="12" fill="#FA948D"/>
<circle cx="1134.31" cy="525.83" r="3" fill="#E6F3FF"/>
<circle cx="1164.23" cy="525.83" r="5.25" fill="#FEF0EF"/>
<circle cx="1194.16" cy="525.83" r="10.2" fill="#FBB3AE"/>
<circle cx="1224.1" cy="525.83" r="8.25" fill="#FDD1CE"/>
<circle cx="1254.03" cy="525.83" r="6" fill="#FEF0EF"/>
<circle cx="1283.95" cy="525.83" r="9.45" fill="#FBB3AE"/>
<circle cx="1313.88" cy="525.83" r="6" fill="#FEF0EF"/>
<circle cx="1343.82" cy="525.83" r="4.5" fill="#FEF0EF"/>
<circle cx="1373.74" cy="525.83" r="3" fill="#E6F3FF"/>
<circle cx="1403.67" cy="525.83" r="7.95" fill="#FDD1CE"/>
<circle cx="1433.61" cy="525.83" r="6" fill="#FEF0EF"/>
<circle cx="894.87" cy="555.75" r="9.45" fill="#FBB3AE"/>
<circle cx="924.79" cy="555.75" r="3.9" fill="#FEF0EF"/>
<circle cx="954.73" cy="555.75" r="9.3" fill="#FBB3AE"/>
<circle cx="984.65" cy="555.75" r="10.95" fill="#FBB3AE"/>
<circle cx="1014.59" cy="555.75" r="7.95" fill="#FDD1CE"/>
<circle cx="1044.51" cy="555.75" r="7.2" fill="#FDD1CE"/>
<circle cx="1074.44" cy="555.75" r="3.9" fill="#FEF0EF"/>
<circle cx="1104.38" cy="555.75" r="11.1" fill="#FBB3AE"/>
<circle cx="1134.31" cy="555.75" r="3.9" fill="#FEF0EF"/>
<circle cx="1164.23" cy="555.75" r="7.2" fill="#FDD1CE"/>
<circle cx="1194.16" cy="555.75" r="9.75" fill="#FBB3AE"/>
<circle cx="1224.1" cy="555.75" r="7.8" fill="#FDD1CE"/>
<circle cx="1254.03" cy="555.75" r="3.9" fill="#FEF0EF"/>
<circle cx="1283.95" cy="555.75" r="6" fill="#FEF0EF"/>
<circle cx="1313.88" cy="555.75" r="3.45" fill="#FEF0EF"/>
<circle cx="1343.82" cy="555.75" r="9.3" fill="#FDD1CE"/>
<circle cx="1373.74" cy="555.75" r="9.6" fill="#FBB3AE"/>
<circle cx="1403.67" cy="555.75" r="8.55" fill="#FDD1CE"/>
<circle cx="1433.61" cy="555.75" r="4.5" fill="#FEF0EF"/>
<circle cx="894.87" cy="585.68" r="9.45" fill="#FBB3AE"/>
<circle cx="924.79" cy="585.68" r="3.9" fill="#FEF0EF"/>
<circle cx="954.73" cy="585.68" r="9.3" fill="#FBB3AE"/>
<circle cx="984.65" cy="585.68" r="10.95" fill="#FBB3AE"/>
<circle cx="1014.59" cy="585.68" r="7.95" fill="#FDD1CE"/>
<circle cx="1044.51" cy="585.68" r="7.35" fill="#FDD1CE"/>
<circle cx="1074.44" cy="585.68" r="4.5" fill="#FEF0EF"/>
<circle cx="1104.38" cy="585.68" r="11.1" fill="#FBB3AE"/>
<circle cx="1134.31" cy="585.68" r="5.4" fill="#FEF0EF"/>
<circle cx="1164.23" cy="585.68" r="7.2" fill="#FDD1CE"/>
<circle cx="1194.16" cy="585.68" r="9.75" fill="#FBB3AE"/>
<circle cx="1224.1" cy="585.68" r="8.25" fill="#FDD1CE"/>
<circle cx="1254.03" cy="585.68" r="3.9" fill="#FEF0EF"/>
<circle cx="1283.95" cy="585.68" r="6.9" fill="#FDD1CE"/>
<circle cx="1313.88" cy="585.68" r="3" fill="#FEF0EF"/>
<circle cx="1343.82" cy="585.68" r="9.3" fill="#FDD1CE"/>
<circle cx="1373.74" cy="585.68" r="9" fill="#FDD1CE"/>
<circle cx="1403.67" cy="585.68" r="8.55" fill="#FDD1CE"/>
<circle cx="1433.61" cy="585.68" r="4.5" fill="#FEF0EF"/>
<circle cx="894.87" cy="615.62" r="8.85" fill="#FDD1CE"/>
<circle cx="924.79" cy="615.62" r="6" fill="#FEF0EF"/>
<circle cx="954.73" cy="615.62" r="10.2" fill="#FBB3AE"/>
<circle cx="984.65" cy="615.62" r="9.75" fill="#FBB3AE"/>
<circle cx="1014.59" cy="615.62" r="8.85" fill="#FDD1CE"/>
<circle cx="1044.51" cy="615.62" r="9" fill="#FDD1CE"/>
<circle cx="1074.44" cy="615.62" r="6.9" fill="#FDD1CE"/>
<circle cx="1104.38" cy="615.62" r="12" fill="#FA948D"/>
<circle cx="1134.31" cy="615.62" r="4.5" fill="#FEF0EF"/>
<circle cx="1164.23" cy="615.62" r="8.55" fill="#FDD1CE"/>
<circle cx="1194.16" cy="615.62" r="11.1" fill="#FBB3AE"/>
<circle cx="1224.1" cy="615.62" r="8.85" fill="#FDD1CE"/>
<circle cx="1254.03" cy="615.62" r="6.3" fill="#FEF0EF"/>
<circle cx="1283.95" cy="615.62" r="8.55" fill="#FDD1CE"/>
<circle cx="1313.88" cy="615.62" r="6" fill="#FEF0EF"/>
<circle cx="1343.82" cy="615.62" r="8.55" fill="#FDD1CE"/>
<circle cx="1373.74" cy="615.62" r="8.25" fill="#FDD1CE"/>
<circle cx="1403.67" cy="615.62" r="8.25" fill="#FDD1CE"/>
<circle cx="1433.61" cy="615.62" r="6.9" fill="#FEF0EF"/>
<circle cx="894.87" cy="645.54" r="10.2" fill="#FBB3AE"/>
<circle cx="924.79" cy="645.54" r="3.45" fill="#FEF0EF"/>
<circle cx="954.73" cy="645.54" r="8.25" fill="#FDD1CE"/>
<circle cx="984.65" cy="645.54" r="12.45" fill="#FA948D"/>
<circle cx="1014.59" cy="645.54" r="6.6" fill="#FDD1CE"/>
<circle cx="1044.51" cy="645.54" r="1.95" fill="#FEF0EF"/>
<circle cx="1074.44" cy="645.54" r="2.4" fill="#E6F3FF"/>
<circle cx="1104.38" cy="645.54" r="7.95" fill="#FDD1CE"/>
<circle cx="1134.31" cy="645.54" r="4.95" fill="#FEF0EF"/>
<circle cx="1164.23" cy="645.54" r="7.8" fill="#FDD1CE"/>
<circle cx="1194.16" cy="645.54" r="8.85" fill="#FDD1CE"/>
<circle cx="1224.1" cy="645.54" r="6.3" fill="#FEF0EF"/>
<circle cx="1254.03" cy="645.54" r="1.95" fill="#FEF0EF"/>
<circle cx="1283.95" cy="645.54" r="1.95" fill="#E6F3FF"/>
<circle cx="1313.88" cy="645.54" r="2.4" fill="#E6F3FF"/>
<circle cx="1343.82" cy="645.54" r="11.1" fill="#FBB3AE"/>
<circle cx="1373.74" cy="645.54" r="12.15" fill="#FA948D"/>
<circle cx="1403.67" cy="645.54" r="7.65" fill="#FDD1CE"/>
<circle cx="1433.61" cy="645.54" r="2.4" fill="#FEF0EF"/>
<circle cx="894.87" cy="675.48" r="12" fill="#FA948D"/>
<circle cx="924.79" cy="675.48" r="9.75" fill="#FBB3AE"/>
<circle cx="954.73" cy="675.48" r="10.2" fill="#FBB3AE"/>
<circle cx="984.65" cy="675.48" r="11.4" fill="#FBB3AE"/>
<circle cx="1014.59" cy="675.48" r="10.8" fill="#FBB3AE"/>
<circle cx="1044.51" cy="675.48" r="10.65" fill="#FBB3AE"/>
<circle cx="1074.44" cy="675.48" r="9.6" fill="#FBB3AE"/>
<circle cx="1104.38" cy="675.48" r="11.7" fill="#FA948D"/>
<circle cx="1134.31" cy="675.48" r="4.5" fill="#FEF0EF"/>
<circle cx="1164.23" cy="675.48" r="8.85" fill="#FDD1CE"/>
<circle cx="1194.16" cy="675.48" r="10.8" fill="#FBB3AE"/>
<circle cx="1224.1" cy="675.48" r="10.95" fill="#FBB3AE"/>
<circle cx="1254.03" cy="675.48" r="9.9" fill="#FBB3AE"/>
<circle cx="1283.95" cy="675.48" r="9.75" fill="#FBB3AE"/>
<circle cx="1313.88" cy="675.48" r="9.45" fill="#FBB3AE"/>
<circle cx="1343.82" cy="675.48" r="11.7" fill="#FA948D"/>
<circle cx="1373.74" cy="675.48" r="11.1" fill="#FA948D"/>
<circle cx="1403.67" cy="675.48" r="11.7" fill="#FBB3AE"/>
<circle cx="1433.61" cy="675.48" r="10.2" fill="#FBB3AE"/>
<circle cx="894.87" cy="705.4" r="12" fill="#FA948D"/>
<circle cx="924.79" cy="705.4" r="13.2" fill="#F8766D"/>
<circle cx="954.73" cy="705.4" r="11.7" fill="#FA948D"/>
<circle cx="984.65" cy="705.4" r="9.15" fill="#FBB3AE"/>
<circle cx="1014.59" cy="705.4" r="13.05" fill="#F8766D"/>
<circle cx="1044.51" cy="705.4" r="12.15" fill="#FA948D"/>
<circle cx="1074.44" cy="705.4" r="12.9" fill="#F8766D"/>
<circle cx="1104.38" cy="705.4" r="11.1" fill="#FBB3AE"/>
<circle cx="1134.31" cy="705.4" r="7.95" fill="#FDD1CE"/>
<circle cx="1164.23" cy="705.4" r="11.7" fill="#FA948D"/>
<circle cx="1194.16" cy="705.4" r="12.15" fill="#FA948D"/>
<circle cx="1224.1" cy="705.4" r="13.2" fill="#F8766D"/>
<circle cx="1254.03" cy="705.4" r="12.45" fill="#F8766D"/>
<circle cx="1283.95" cy="705.4" r="12.75" fill="#F8766D"/>
<circle cx="1313.88" cy="705.4" r="12.75" fill="#F8766D"/>
<circle cx="1343.82" cy="705.4" r="12.15" fill="#FA948D"/>
<circle cx="1373.74" cy="705.4" r="9.6" fill="#FBB3AE"/>
<circle cx="1403.67" cy="705.4" r="12" fill="#FA948D"/>
<circle cx="1433.61" cy="705.4" r="12.15" fill="#FA948D"/>
<circle cx="894.87" cy="735.34" r="7.5" fill="#FDD1CE"/>
<circle cx="924.79" cy="735.34" r="5.4" fill="#FEF0EF"/>
<circle cx="954.73" cy="735.34" r="11.25" fill="#FBB3AE"/>
<circle cx="984.65" cy="735.34" r="7.8" fill="#FDD1CE"/>
<circle cx="1014.59" cy="735.34" r="9.6" fill="#FBB3AE"/>
<circle cx="1044.51" cy="735.34" r="10.2" fill="#FBB3AE"/>
<circle cx="1074.44" cy="735.34" r="7.8" fill="#FDD1CE"/>
<circle cx="1104.38" cy="735.34" r="12.15" fill="#FA948D"/>
<circle cx="1134.31" cy="735.34" r="1.5" fill="#FEF0EF"/>
<circle cx="1164.23" cy="735.34" r="7.2" fill="#FDD1CE"/>
<circle cx="1194.16" cy="735.34" r="11.1" fill="#FBB3AE"/>
<circle cx="1224.1" cy="735.34" r="8.85" fill="#FDD1CE"/>
<circle cx="1254.03" cy="735.34" r="6.9" fill="#FDD1CE"/>
<circle cx="1283.95" cy="735.34" r="9.6" fill="#FBB3AE"/>
<circle cx="1313.88" cy="735.34" r="7.05" fill="#FDD1CE"/>
<circle cx="1343.82" cy="735.34" r="5.4" fill="#FEF0EF"/>
<circle cx="1373.74" cy="735.34" r="1.5" fill="#FEF0EF"/>
<circle cx="1403.67" cy="735.34" r="8.25" fill="#FDD1CE"/>
<circle cx="1433.61" cy="735.34" r="7.05" fill="#FDD1CE"/>
<circle cx="894.87" cy="765.26" r="8.55" fill="#FDD1CE"/>
<circle cx="924.79" cy="765.26" r="7.05" fill="#FDD1CE"/>
<circle cx="954.73" cy="765.26" r="10.8" fill="#FBB3AE"/>
<circle cx="984.65" cy="765.26" r="7.8" fill="#FDD1CE"/>
<circle cx="1014.59" cy="765.26" r="10.05" fill="#FBB3AE"/>
<circle cx="1044.51" cy="765.26" r="10.8" fill="#FBB3AE"/>
<circle cx="1074.44" cy="765.26" r="8.4" fill="#FDD1CE"/>
<circle cx="1104.38" cy="765.26" r="12.45" fill="#FA948D"/>
<circle cx="1134.31" cy="765.26" r="4.5" fill="#FEF0EF"/>
<circle cx="1164.23" cy="765.26" r="8.4" fill="#FDD1CE"/>
<circle cx="1194.16" cy="765.26" r="11.4" fill="#FA948D"/>
<circle cx="1224.1" cy="765.26" r="9.75" fill="#FBB3AE"/>
<circle cx="1254.03" cy="765.26" r="8.1" fill="#FDD1CE"/>
<circle cx="1283.95" cy="765.26" r="10.05" fill="#FBB3AE"/>
<circle cx="1313.88" cy="765.26" r="7.65" fill="#FDD1CE"/>
<circle cx="1343.82" cy="765.26" r="7.35" fill="#FDD1CE"/>
<circle cx="1373.74" cy="765.26" r="4.95" fill="#FEF0EF"/>
<circle cx="1403.67" cy="765.26" r="9.45" fill="#FBB3AE"/>
<circle cx="1433.61" cy="765.26" r="8.25" fill="#FDD1CE"/>
<circle cx="894.87" cy="795.19" r="6.3" fill="#FEF0EF"/>
<circle cx="924.79" cy="795.19" r="6" fill="#FEF0EF"/>
<circle cx="954.73" cy="795.19" r="10.2" fill="#FBB3AE"/>
<circle cx="984.65" cy="795.19" r="5.4" fill="#FEF0EF"/>
<circle cx="1014.59" cy="795.19" r="8.85" fill="#FDD1CE"/>
<circle cx="1044.51" cy="795.19" r="10.2" fill="#FBB3AE"/>
<circle cx="1074.44" cy="795.19" r="7.5" fill="#FDD1CE"/>
<circle cx="1104.38" cy="795.19" r="12" fill="#FA948D"/>
<circle cx="1134.31" cy="795.19" r="1.95" fill="#FEF0EF"/>
<circle cx="1164.23" cy="795.19" r="6.3" fill="#FEF0EF"/>
<circle cx="1194.16" cy="795.19" r="10.5" fill="#FBB3AE"/>
<circle cx="1224.1" cy="795.19" r="8.85" fill="#FDD1CE"/>
<circle cx="1254.03" cy="795.19" r="7.05" fill="#FDD1CE"/>
<circle cx="1283.95" cy="795.19" r="9.45" fill="#FBB3AE"/>
<circle cx="1313.88" cy="795.19" r="6.3" fill="#FEF0EF"/>
<circle cx="1343.82" cy="795.19" r="4.5" fill="#FEF0EF"/>
<circle cx="1373.74" cy="795.19" r="3" fill="#E6F3FF"/>
<circle cx="1403.67" cy="795.19" r="7.95" fill="#FDD1CE"/>
<circle cx="1433.61" cy="795.19" r="7.35" fill="#FDD1CE"/>
<circle cx="894.87" cy="825.12" r="7.05" fill="#FDD1CE"/>
<circle cx="924.79" cy="825.12" r="4.5" fill="#FEF0EF"/>
<circle cx="954.73" cy="825.12" r="10.2" fill="#FBB3AE"/>
<circle cx="984.65" cy="825.12" r="7.2" fill="#FDD1CE"/>
<circle cx="1014.59" cy="825.12" r="8.85" fill="#FDD1CE"/>
<circle cx="1044.51" cy="825.12" r="9.6" fill="#FBB3AE"/>
<circle cx="1074.44" cy="825.12" r="6.9" fill="#FDD1CE"/>
<circle cx="1104.38" cy="825.12" r="12" fill="#FA948D"/>
<circle cx="1134.31" cy="825.12" r="1.5" fill="#FEF0EF"/>
<circle cx="1164.23" cy="825.12" r="6.9" fill="#FDD1CE"/>
<circle cx="1194.16" cy="825.12" r="10.5" fill="#FBB3AE"/>
<circle cx="1224.1" cy="825.12" r="8.85" fill="#FDD1CE"/>
<circle cx="1254.03" cy="825.12" r="6" fill="#FEF0EF"/>
<circle cx="1283.95" cy="825.12" r="9" fill="#FDD1CE"/>
<circle cx="1313.88" cy="825.12" r="6" fill="#FEF0EF"/>
<circle cx="1343.82" cy="825.12" r="6" fill="#FEF0EF"/>
<circle cx="1373.74" cy="825.12" r="2.25" fill="#FEF0EF"/>
<circle cx="1403.67" cy="825.12" r="8.25" fill="#FDD1CE"/>
<circle cx="1433.61" cy="825.12" r="4.5" fill="#FEF0EF"/>
<circle cx="894.87" cy="855.06" r="6.6" fill="#FDD1CE"/>
<circle cx="924.79" cy="855.06" r="4.5" fill="#FEF0EF"/>
<circle cx="954.73" cy="855.06" r="10.65" fill="#FBB3AE"/>
<circle cx="984.65" cy="855.06" r="4.5" fill="#FEF0EF"/>
<circle cx="1014.59" cy="855.06" r="8.85" fill="#FDD1CE"/>
<circle cx="1044.51" cy="855.06" r="10.05" fill="#FBB3AE"/>
<circle cx="1074.44" cy="855.06" r="7.5" fill="#FDD1CE"/>
<circle cx="1104.38" cy="855.06" r="12" fill="#FA948D"/>
<circle cx="1134.31" cy="855.06" r="1.5" fill="#FEF0EF"/>
<circle cx="1164.23" cy="855.06" r="6.9" fill="#FDD1CE"/>
<circle cx="1194.16" cy="855.06" r="10.8" fill="#FBB3AE"/>
<circle cx="1224.1" cy="855.06" r="8.85" fill="#FDD1CE"/>
<circle cx="1254.03" cy="855.06" r="6.9" fill="#FDD1CE"/>
<circle cx="1283.95" cy="855.06" r="9.45" fill="#FBB3AE"/>
<circle cx="1313.88" cy="855.06" r="6.3" fill="#FEF0EF"/>
<circle cx="1343.82" cy="855.06" r="4.5" fill="#FEF0EF"/>
<circle cx="1373.74" cy="855.06" r="1.5" fill="#FEF0EF"/>
<circle cx="1403.67" cy="855.06" r="8.25" fill="#FDD1CE"/>
<circle cx="1433.61" cy="855.06" r="6.9" fill="#FDD1CE"/>
<circle cx="894.87" cy="884.99" r="6" fill="#FEF0EF"/>
<circle cx="924.79" cy="884.99" r="4.95" fill="#FEF0EF"/>
<circle cx="954.73" cy="884.99" r="10.2" fill="#FBB3AE"/>
<circle cx="984.65" cy="884.99" r="6" fill="#FEF0EF"/>
<circle cx="1014.59" cy="884.99" r="8.85" fill="#FDD1CE"/>
<circle cx="1044.51" cy="884.99" r="10.05" fill="#FBB3AE"/>
<circle cx="1074.44" cy="884.99" r="6.9" fill="#FDD1CE"/>
<circle cx="1104.38" cy="884.99" r="12" fill="#FA948D"/>
<circle cx="1134.31" cy="884.99" r="1.5" fill="#FEF0EF"/>
<circle cx="1164.23" cy="884.99" r="6.9" fill="#FDD1CE"/>
<circle cx="1194.16" cy="884.99" r="10.8" fill="#FBB3AE"/>
<circle cx="1224.1" cy="884.99" r="8.85" fill="#FDD1CE"/>
<circle cx="1254.03" cy="884.99" r="6.3" fill="#FEF0EF"/>
<circle cx="1283.95" cy="884.99" r="9" fill="#FDD1CE"/>
<circle cx="1313.88" cy="884.99" r="6" fill="#FEF0EF"/>
<circle cx="1343.82" cy="884.99" r="4.95" fill="#FEF0EF"/>
<circle cx="1373.74" cy="884.99" r="1.5" fill="#FEF0EF"/>
<circle cx="1403.67" cy="884.99" r="8.1" fill="#FDD1CE"/>
<circle cx="1433.61" cy="884.99" r="6.3" fill="#FEF0EF"/>
<circle cx="894.87" cy="914.91" r="6" fill="#FEF0EF"/>
<circle cx="924.79" cy="914.91" r="5.4" fill="#FEF0EF"/>
<circle cx="954.73" cy="914.91" r="10.2" fill="#FBB3AE"/>
<circle cx="984.65" cy="914.91" r="5.4" fill="#FEF0EF"/>
<circle cx="1014.59" cy="914.91" r="8.85" fill="#FDD1CE"/>
<circle cx="1044.51" cy="914.91" r="10.2" fill="#FBB3AE"/>
<circle cx="1074.44" cy="914.91" r="7.5" fill="#FDD1CE"/>
<circle cx="1104.38" cy="914.91" r="12" fill="#FA948D"/>
<circle cx="1134.31" cy="914.91" r="1.95" fill="#E6F3FF"/>
<circle cx="1164.23" cy="914.91" r="6.3" fill="#FEF0EF"/>
<circle cx="1194.16" cy="914.91" r="10.8" fill="#FBB3AE"/>
<circle cx="1224.1" cy="914.91" r="8.85" fill="#FDD1CE"/>
<circle cx="1254.03" cy="914.91" r="7.05" fill="#FDD1CE"/>
<circle cx="1283.95" cy="914.91" r="9.45" fill="#FBB3AE"/>
<circle cx="1313.88" cy="914.91" r="6.9" fill="#FDD1CE"/>
<circle cx="1343.82" cy="914.91" r="4.5" fill="#FEF0EF"/>
<circle cx="1373.74" cy="914.91" r="1.5" fill="#FEF0EF"/>
<circle cx="1403.67" cy="914.91" r="7.95" fill="#FDD1CE"/>
<circle cx="1433.61" cy="914.91" r="7.35" fill="#FDD1CE"/>
<circle cx="894.87" cy="944.85" r="4.5" fill="#FEF0EF"/>
<circle cx="924.79" cy="944.85" r="4.95" fill="#FEF0EF"/>
<circle cx="954.73" cy="944.85" r="10.2" fill="#FBB3AE"/>
<circle cx="984.65" cy="944.85" r="5.4" fill="#FEF0EF"/>
<circle cx="1014.59" cy="944.85" r="8.25" fill="#FDD1CE"/>
<circle cx="1044.51" cy="944.85" r="10.05" fill="#FBB3AE"/>
<circle cx="1074.44" cy="944.85" r="6.9" fill="#FDD1CE"/>
<circle cx="1104.38" cy="944.85" r="12" fill="#FA948D"/>
<circle cx="1134.31" cy="944.85" r="2.4" fill="#E6F3FF"/>
<circle cx="1164.23" cy="944.85" r="6" fill="#FEF0EF"/>
<circle cx="1194.16" cy="944.85" r="10.5" fill="#FBB3AE"/>
<circle cx="1224.1" cy="944.85" r="8.25" fill="#FDD1CE"/>
<circle cx="1254.03" cy="944.85" r="6" fill="#FEF0EF"/>
<circle cx="1283.95" cy="944.85" r="9" fill="#FBB3AE"/>
<circle cx="1313.88" cy="944.85" r="6" fill="#FEF0EF"/>
<circle cx="1343.82" cy="944.85" r="4.5" fill="#FEF0EF"/>
<circle cx="1373.74" cy="944.85" r="3" fill="#E6F3FF"/>
<circle cx="1403.67" cy="944.85" r="7.65" fill="#FDD1CE"/>
<circle cx="1433.61" cy="944.85" r="6" fill="#FEF0EF"/>
<circle cx="894.87" cy="974.77" r="6" fill="#FEF0EF"/>
<circle cx="924.79" cy="974.77" r="4.95" fill="#FEF0EF"/>
<circle cx="954.73" cy="974.77" r="10.2" fill="#FBB3AE"/>
<circle cx="984.65" cy="974.77" r="6" fill="#FEF0EF"/>
<circle cx="1014.59" cy="974.77" r="8.85" fill="#FDD1CE"/>
<circle cx="1044.51" cy="974.77" r="9.6" fill="#FBB3AE"/>
<circle cx="1074.44" cy="974.77" r="6.9" fill="#FDD1CE"/>
<circle cx="1104.38" cy="974.77" r="12" fill="#FA948D"/>
<circle cx="1134.31" cy="974.77" r="1.05" fill="#FEF0EF"/>
<circle cx="1164.23" cy="974.77" r="4.95" fill="#FEF0EF"/>
<circle cx="1194.16" cy="974.77" r="10.5" fill="#FBB3AE"/>
<circle cx="1224.1" cy="974.77" r="8.25" fill="#FDD1CE"/>
<circle cx="1254.03" cy="974.77" r="6" fill="#FEF0EF"/>
<circle cx="1283.95" cy="974.77" r="9" fill="#FDD1CE"/>
<circle cx="1313.88" cy="974.77" r="6" fill="#FEF0EF"/>
<circle cx="1343.82" cy="974.77" r="4.95" fill="#FEF0EF"/>
<circle cx="1373.74" cy="974.77" r="2.4" fill="#FEF0EF"/>
<circle cx="1403.67" cy="974.77" r="7.65" fill="#FDD1CE"/>
<circle cx="1433.61" cy="974.77" r="6" fill="#FEF0EF"/>
<circle cx="894.87" cy="1004.71" r="7.2" fill="#FDD1CE"/>
<circle cx="924.79" cy="1004.71" r="6.3" fill="#FEF0EF"/>
<circle cx="954.73" cy="1004.71" r="10.65" fill="#FBB3AE"/>
<circle cx="984.65" cy="1004.71" r="7.2" fill="#FDD1CE"/>
<circle cx="1014.59" cy="1004.71" r="9.6" fill="#FBB3AE"/>
<circle cx="1044.51" cy="1004.71" r="10.2" fill="#FBB3AE"/>
<circle cx="1074.44" cy="1004.71" r="7.8" fill="#FDD1CE"/>
<circle cx="1104.38" cy="1004.71" r="12.45" fill="#FA948D"/>
<circle cx="1134.31" cy="1004.71" r="2.4" fill="#E6F3FF"/>
<circle cx="1164.23" cy="1004.71" r="6.9" fill="#FDD1CE"/>
<circle cx="1194.16" cy="1004.71" r="11.1" fill="#FBB3AE"/>
<circle cx="1224.1" cy="1004.71" r="8.85" fill="#FDD1CE"/>
<circle cx="1254.03" cy="1004.71" r="7.05" fill="#FDD1CE"/>
<circle cx="1283.95" cy="1004.71" r="9.45" fill="#FBB3AE"/>
<circle cx="1313.88" cy="1004.71" r="6.9" fill="#FDD1CE"/>
<circle cx="1343.82" cy="1004.71" r="6" fill="#FEF0EF"/>
<circle cx="1373.74" cy="1004.71" r="4.95" fill="#FEF0EF"/>
<circle cx="1403.67" cy="1004.71" r="8.25" fill="#FDD1CE"/>
<circle cx="1433.61" cy="1004.71" r="7.35" fill="#FDD1CE"/>
<circle cx="894.87" cy="1034.63" r="6" fill="#FEF0EF"/>
<circle cx="924.79" cy="1034.63" r="5.4" fill="#FEF0EF"/>
<circle cx="954.73" cy="1034.63" r="10.2" fill="#FBB3AE"/>
<circle cx="984.65" cy="1034.63" r="4.5" fill="#FEF0EF"/>
<circle cx="1014.59" cy="1034.63" r="8.85" fill="#FDD1CE"/>
<circle cx="1044.51" cy="1034.63" r="10.2" fill="#FBB3AE"/>
<circle cx="1074.44" cy="1034.63" r="6.9" fill="#FDD1CE"/>
<circle cx="1104.38" cy="1034.63" r="12" fill="#FA948D"/>
<circle cx="1134.31" cy="1034.63" r="1.95" fill="#FEF0EF"/>
<circle cx="1164.23" cy="1034.63" r="6" fill="#FEF0EF"/>
<circle cx="1194.16" cy="1034.63" r="10.5" fill="#FBB3AE"/>
<circle cx="1224.1" cy="1034.63" r="8.25" fill="#FDD1CE"/>
<circle cx="1254.03" cy="1034.63" r="6.6" fill="#FDD1CE"/>
<circle cx="1283.95" cy="1034.63" r="9.45" fill="#FBB3AE"/>
<circle cx="1313.88" cy="1034.63" r="6" fill="#FEF0EF"/>
<circle cx="1343.82" cy="1034.63" r="4.95" fill="#FEF0EF"/>
<circle cx="1373.74" cy="1034.63" r="3" fill="#E6F3FF"/>
<circle cx="1403.67" cy="1034.63" r="7.65" fill="#FDD1CE"/>
<circle cx="1433.61" cy="1034.63" r="7.05" fill="#FDD1CE"/>
<g stroke="#BEBEBE" stroke-width="1.25" fill="none">
<line x1="879.9" y1="451" x2="879.9" y2="1049.6"/>
<line x1="909.83" y1="451" x2="909.83" y2="1049.6"/>
<line x1="939.76" y1="451" x2="939.76" y2="1049.6"/>
<line x1="969.69" y1="451" x2="969.69" y2="1049.6"/>
<line x1="999.62" y1="451" x2="999.62" y2="1049.6"/>
<line x1="1029.55" y1="451" x2="1029.55" y2="1049.6"/>
<line x1="1059.48" y1="451" x2="1059.48" y2="1049.6"/>
<line x1="1089.41" y1="451" x2="1089.41" y2="1049.6"/>
<line x1="1119.34" y1="451" x2="1119.34" y2="1049.6"/>
<line x1="1149.27" y1="451" x2="1149.27" y2="1049.6"/>
<line x1="1179.2" y1="451" x2="1179.2" y2="1049.6"/>
<line x1="1209.13" y1="451" x2="1209.13" y2="1049.6"/>
<line x1="1239.06" y1="451" x2="1239.06" y2="1049.6"/>
<line x1="1268.99" y1="451" x2="1268.99" y2="1049.6"/>
<line x1="1298.92" y1="451" x2="1298.92" y2="1049.6"/>
<line x1="1328.85" y1="451" x2="1328.85" y2="1049.6"/>
<line x1="1358.78" y1="451" x2="1358.78" y2="1049.6"/>
<line x1="1388.71" y1="451" x2="1388.71" y2="1049.6"/>
<line x1="1418.64" y1="451" x2="1418.64" y2="1049.6"/>
<line x1="1448.57" y1="451" x2="1448.57" y2="1049.6"/>
<line x1="879.9" y1="451" x2="1448.57" y2="451"/>
<line x1="879.9" y1="480.93" x2="1448.57" y2="480.93"/>
<line x1="879.9" y1="510.86" x2="1448.57" y2="510.86"/>
<line x1="879.9" y1="540.79" x2="1448.57" y2="540.79"/>
<line x1="879.9" y1="570.72" x2="1448.57" y2="570.72"/>
<line x1="879.9" y1="600.65" x2="1448.57" y2="600.65"/>
<line x1="879.9" y1="630.58" x2="1448.57" y2="630.58"/>
<line x1="879.9" y1="660.51" x2="1448.57" y2="660.51"/>
<line x1="879.9" y1="690.44" x2="1448.57" y2="690.44"/>
<line x1="879.9" y1="720.37" x2="1448.57" y2="720.37"/>
<line x1="879.9" y1="750.3" x2="1448.57" y2="750.3"/>
<line x1="879.9" y1="780.23" x2="1448.57" y2="780.23"/>
<line x1="879.9" y1="810.16" x2="1448.57" y2="810.16"/>
<line x1="879.9" y1="840.09" x2="1448.57" y2="840.09"/>
<line x1="879.9" y1="870.02" x2="1448.57" y2="870.02"/>
<line x1="879.9" y1="899.95" x2="1448.57" y2="899.95"/>
<line x1="879.9" y1="929.88" x2="1448.57" y2="929.88"/>
<line x1="879.9" y1="959.81" x2="1448.57" y2="959.81"/>
<line x1="879.9" y1="989.74" x2="1448.57" y2="989.74"/>
<line x1="879.9" y1="1019.67" x2="1448.57" y2="1019.67"/>
<line x1="879.9" y1="1049.6" x2="1448.57" y2="1049.6"/>
</g>
<g font-size="14.5" text-anchor="middle" font-weight="bold">
<text x="925.09" y="473.56">*</text>
<text x="1014.88" y="473.56">*</text>
<text x="1104.67" y="473.56">*</text>
<text x="1164.53" y="473.56">*</text>
<text x="1194.46" y="473.56">*</text>
<text x="1224.39" y="473.56">*</text>
<text x="1403.97" y="473.56">*</text>
<text x="1104.67" y="503.5">*</text>
<text x="1164.53" y="503.5">*</text>
<text x="1194.46" y="503.5">*</text>
<text x="1224.39" y="503.5">*</text>
<text x="1403.97" y="503.5">*</text>
<text x="1044.81" y="533.43">*</text>
<text x="1104.67" y="533.43">*</text>
<text x="1194.46" y="533.43">*</text>
<text x="895.16" y="593.28">*</text>
<text x="1104.67" y="623.22">*</text>
<text x="1164.53" y="623.22">*</text>
<text x="1194.46" y="623.22">*</text>
<text x="1224.39" y="623.22">*</text>
<text x="1403.97" y="623.22">*</text>
<text x="955.02" y="653.14">*</text>
<text x="984.95" y="653.14">*</text>
<text x="1194.46" y="653.14">*</text>
<text x="1224.39" y="653.14">*</text>
<text x="1344.12" y="653.14">*</text>
<text x="895.16" y="683.08">*</text>
<text x="1014.88" y="683.08">*</text>
<text x="1104.67" y="683.08">*</text>
<text x="1224.39" y="683.08">*</text>
<text x="1344.12" y="683.08">*</text>
<text x="1403.97" y="683.08">*</text>
<text x="1433.9" y="683.08">*</text>
<text x="895.16" y="713">*</text>
<text x="925.09" y="713">*</text>
<text x="955.02" y="713">*</text>
<text x="984.95" y="713">*</text>
<text x="1014.88" y="713">*</text>
<text x="1074.74" y="713">*</text>
<text x="1104.67" y="713">*</text>
<text x="1134.61" y="713">*</text>
<text x="1194.46" y="713">*</text>
<text x="1224.39" y="713">*</text>
<text x="1254.33" y="713">*</text>
<text x="1284.25" y="713">*</text>
<text x="1314.18" y="713">*</text>
<text x="1344.12" y="713">*</text>
<text x="1403.97" y="713">*</text>
<text x="1433.9" y="713">*</text>
<text x="895.16" y="742.94">*</text>
<text x="925.09" y="742.94">*</text>
<text x="955.02" y="742.94">*</text>
<text x="984.95" y="742.94">*</text>
<text x="1014.88" y="742.94">*</text>
<text x="1044.81" y="742.94">*</text>
<text x="1074.74" y="742.94">*</text>
<text x="1104.67" y="742.94">*</text>
<text x="1134.61" y="742.94">*</text>
<text x="1164.53" y="742.94">*</text>
<text x="1194.46" y="742.94">*</text>
<text x="1224.39" y="742.94">*</text>
<text x="1254.33" y="742.94">*</text>
<text x="1314.18" y="742.94">*</text>
<text x="1344.12" y="742.94">*</text>
<text x="1374.04" y="742.94">*</text>
<text x="1403.97" y="742.94">*</text>
<text x="1433.9" y="742.94">*</text>
<text x="895.16" y="772.87">*</text>
<text x="984.95" y="772.87">*</text>
<text x="1014.88" y="772.87">*</text>
<text x="1104.67" y="772.87">*</text>
<text x="1164.53" y="772.87">*</text>
<text x="1194.46" y="772.87">*</text>
<text x="1224.39" y="772.87">*</text>
<text x="1344.12" y="772.87">*</text>
<text x="1374.04" y="772.87">*</text>
<text x="1403.97" y="772.87">*</text>
<text x="1433.9" y="772.87">*</text>
<text x="1104.67" y="802.79">*</text>
<text x="895.16" y="832.73">*</text>
<text x="925.09" y="832.73">*</text>
<text x="1014.88" y="832.73">*</text>
<text x="1044.81" y="832.73">*</text>
<text x="1104.67" y="832.73">*</text>
<text x="1134.61" y="832.73">*</text>
<text x="1164.53" y="832.73">*</text>
<text x="1194.46" y="832.73">*</text>
<text x="1224.39" y="832.73">*</text>
<text x="1374.04" y="832.73">*</text>
<text x="1403.97" y="832.73">*</text>
<text x="1433.9" y="832.73">*</text>
<text x="895.16" y="862.66">*</text>
<text x="925.09" y="862.66">*</text>
<text x="984.95" y="862.66">*</text>
<text x="1014.88" y="862.66">*</text>
<text x="1044.81" y="862.66">*</text>
<text x="1104.67" y="862.66">*</text>
<text x="1134.61" y="862.66">*</text>
<text x="1164.53" y="862.66">*</text>
<text x="1194.46" y="862.66">*</text>
<text x="1224.39" y="862.66">*</text>
<text x="1254.33" y="862.66">*</text>
<text x="1344.12" y="862.66">*</text>
<text x="1374.04" y="862.66">*</text>
<text x="1403.97" y="862.66">*</text>
<text x="1433.9" y="862.66">*</text>
<text x="1044.81" y="892.59">*</text>
<text x="1104.67" y="892.59">*</text>
<text x="1134.61" y="892.59">*</text>
<text x="1164.53" y="892.59">*</text>
<text x="1194.46" y="892.59">*</text>
<text x="1224.39" y="892.59">*</text>
<text x="1374.04" y="892.59">*</text>
<text x="1403.97" y="892.59">*</text>
<text x="1194.46" y="922.51">*</text>
<text x="1224.39" y="922.51">*</text>
<text x="1374.04" y="922.51">*</text>
<text x="895.16" y="952.45">*</text>
<text x="1014.88" y="952.45">*</text>
<text x="1104.67" y="952.45">*</text>
<text x="1194.46" y="952.45">*</text>
<text x="1224.39" y="952.45">*</text>
<text x="1403.97" y="952.45">*</text>
<text x="1164.53" y="982.38">*</text>
<text x="1014.88" y="1012.31">*</text>
<text x="1104.67" y="1012.31">*</text>
<text x="1224.39" y="1012.31">*</text>
<text x="1254.33" y="1012.31">*</text>
<text x="1403.97" y="1012.31">*</text>
<text x="984.95" y="1042.23">*</text>
<text x="1104.67" y="1042.23">*</text>
<text x="1194.46" y="1042.23">*</text>
<text x="1224.39" y="1042.23">*</text>
<text x="1403.97" y="1042.23">*</text>
</g>
<text transform="translate(404.76,440) rotate(-90) scale(1,1.04)" font-size="22.7">Candidatus.Saccharibacteria</text>
<text transform="translate(434.69,440) rotate(-90) scale(1,1.04)" font-size="22.7">Actinomycetota</text>
<text transform="translate(464.62,440) rotate(-90) scale(1,1.04)" font-size="22.7">Verrucomicrobiota</text>
<text transform="translate(494.55,440) rotate(-90) scale(1,1.04)" font-size="22.7">Bacteroidota</text>
<text transform="translate(524.49,440) rotate(-90) scale(1,1.04)" font-size="22.7">Bifidobacterium</text>
<text transform="translate(554.41,440) rotate(-90) scale(1,1.04)" font-size="22.7">Faecalibaculum</text>
<text transform="translate(584.34,440) rotate(-90) scale(1,1.04)" font-size="22.7">Lactobacillus</text>
<text transform="translate(614.27,440) rotate(-90) scale(1,1.04)" font-size="22.7">Duncaniella</text>
<text transform="translate(644.2,440) rotate(-90) scale(1,1.04)" font-size="22.7">Bacteroides</text>
<text transform="translate(674.13,440) rotate(-90) scale(1,1.04)" font-size="22.7">Akkermansia</text>
<text transform="translate(704.06,440) rotate(-90) scale(1,1.04)" font-size="22.7">Muribaculaceae.bacterium.Isolate.110..HZI.</text>
<text transform="translate(734,440) rotate(-90) scale(1,1.04)" font-size="22.7">Bifidobacterium.pseudolongum</text>
<text transform="translate(763.92,440) rotate(-90) scale(1,1.04)" font-size="22.7">Lactobacillus.johnsonii</text>
<text transform="translate(793.85,440) rotate(-90) scale(1,1.04)" font-size="22.7">Faecalibaculum.rodentium</text>
<text transform="translate(823.78,440) rotate(-90) scale(1,1.04)" font-size="22.7">Erysipelotrichaceae.bacterium</text>
<text transform="translate(853.72,440) rotate(-90) scale(1,1.04)" font-size="22.7">Akkermansia.muciniphila</text>
<text transform="translate(900.16,444) rotate(-90) scale(1,1.04)" font-size="22.7">N-Acetyl-L-histidine</text>
<text transform="translate(930.09,444) rotate(-90) scale(1,1.04)" font-size="22.7">11(Z),14(Z)-Eicosadienoic Acid</text>
<text transform="translate(960.02,444) rotate(-90) scale(1,1.04)" font-size="22.7">Lysopc 20:0</text>
<text transform="translate(989.95,444) rotate(-90) scale(1,1.04)" font-size="22.7">N-Acetyl-DL-glutamic acid</text>
<text transform="translate(1019.88,444) rotate(-90) scale(1,1.04)" font-size="22.7">(R)-3-Hydroxy myristic acid</text>
<text transform="translate(1049.81,444) rotate(-90) scale(1,1.04)" font-size="22.7">cholesteryl sulfate</text>
<text transform="translate(1079.74,444) rotate(-90) scale(1,1.04)" font-size="22.7">Bisphenol G</text>
<text transform="translate(1109.67,444) rotate(-90) scale(1,1.04)" font-size="22.7">2-Thio-acetyl MAGE</text>
<text transform="translate(1139.61,444) rotate(-90) scale(1,1.04)" font-size="22.7">2-Amino-1,3,4-octadecanetriol</text>
<text transform="translate(1169.53,444) rotate(-90) scale(1,1.04)" font-size="22.7">NAOrn 15:0/17:0</text>
<text transform="translate(1199.46,444) rotate(-90) scale(1,1.04)" font-size="22.7">AMK</text>
<text transform="translate(1229.39,444) rotate(-90) scale(1,1.04)" font-size="22.7">(±)11(12)-DiHET</text>
<text transform="translate(1259.33,444) rotate(-90) scale(1,1.04)" font-size="22.7">Homo-Gamma-Linolenic Acid (C20:3)</text>
<text transform="translate(1289.25,444) rotate(-90) scale(1,1.04)" font-size="22.7">Trimethyllysine</text>
<text transform="translate(1319.18,444) rotate(-90) scale(1,1.04)" font-size="22.7">LKK</text>
<text transform="translate(1349.12,444) rotate(-90) scale(1,1.04)" font-size="22.7">gamma-Nonanolactone</text>
<text transform="translate(1379.04,444) rotate(-90) scale(1,1.04)" font-size="22.7">N-α-L-Acetyl-arginine</text>
<text transform="translate(1408.97,444) rotate(-90) scale(1,1.04)" font-size="22.7">16(R)-HETE</text>
<text transform="translate(1438.9,444) rotate(-90) scale(1,1.04)" font-size="22.7">Cyclopentyl fentanyl-d5</text>
<text transform="translate(619.3,1080) scale(1,1.04)" font-size="25.3" text-anchor="middle">Microbiota</text>
<text transform="translate(1156,1080) scale(1,1.04)" font-size="25.3" text-anchor="middle">Metabolites</text>
<rect x="1459.7" y="451.2" width="21.1" height="60.22" fill="#F8766D"/>
<rect x="1459.7" y="511.02" width="21.1" height="60.22" fill="#FA948D"/>
<rect x="1459.7" y="570.84" width="21.1" height="60.22" fill="#FBB3AE"/>
<rect x="1459.7" y="630.66" width="21.1" height="60.22" fill="#FDD1CE"/>
<rect x="1459.7" y="690.48" width="21.1" height="60.22" fill="#FEF0EF"/>
<rect x="1459.7" y="750.3" width="21.1" height="60.22" fill="#E6F3FF"/>
<rect x="1459.7" y="810.12" width="21.1" height="60.22" fill="#B4DAFF"/>
<rect x="1459.7" y="869.94" width="21.1" height="60.22" fill="#82C1FF"/>
<rect x="1459.7" y="929.76" width="21.1" height="60.22" fill="#50A9FF"/>
<rect x="1459.7" y="989.58" width="21.1" height="60.22" fill="#1E90FF"/>
<rect x="1459.7" y="451.2" width="21.1" height="598.2" fill="none" stroke="#000" stroke-width="1.3"/>
<g stroke="#000" stroke-width="1.3">
<line x1="1480.8" y1="451.2" x2="1485.8" y2="451.2"/>
<line x1="1480.8" y1="511.02" x2="1485.8" y2="511.02"/>
<line x1="1480.8" y1="570.84" x2="1485.8" y2="570.84"/>
<line x1="1480.8" y1="630.66" x2="1485.8" y2="630.66"/>
<line x1="1480.8" y1="690.48" x2="1485.8" y2="690.48"/>
<line x1="1480.8" y1="750.3" x2="1485.8" y2="750.3"/>
<line x1="1480.8" y1="810.12" x2="1485.8" y2="810.12"/>
<line x1="1480.8" y1="869.94" x2="1485.8" y2="869.94"/>
<line x1="1480.8" y1="929.76" x2="1485.8" y2="929.76"/>
<line x1="1480.8" y1="989.58" x2="1485.8" y2="989.58"/>
<line x1="1480.8" y1="1049.4" x2="1485.8" y2="1049.4"/>
</g>
<text transform="translate(1509.5,457.4) scale(1,1.04)" font-size="18.5" text-anchor="middle">1</text>
<text transform="translate(1509.5,517.22) scale(1,1.04)" font-size="18.5" text-anchor="middle">0.8</text>
<text transform="translate(1509.5,577.04) scale(1,1.04)" font-size="18.5" text-anchor="middle">0.6</text>
<text transform="translate(1509.5,636.86) scale(1,1.04)" font-size="18.5" text-anchor="middle">0.4</text>
<text transform="translate(1509.5,696.68) scale(1,1.04)" font-size="18.5" text-anchor="middle">0.2</text>
<text transform="translate(1509.5,756.5) scale(1,1.04)" font-size="18.5" text-anchor="middle">0</text>
<text transform="translate(1509.5,816.32) scale(1,1.04)" font-size="18.5" text-anchor="middle">−0.2</text>
<text transform="translate(1509.5,876.14) scale(1,1.04)" font-size="18.5" text-anchor="middle">−0.4</text>
<text transform="translate(1509.5,935.96) scale(1,1.04)" font-size="18.5" text-anchor="middle">−0.6</text>
<text transform="translate(1509.5,995.78) scale(1,1.04)" font-size="18.5" text-anchor="middle">−0.8</text>
<text transform="translate(1509.5,1055.6) scale(1,1.04)" font-size="18.5" text-anchor="middle">−1</text>
<g stroke="#808080" stroke-width="1.5" fill="none">
<rect x="146.7" y="1424.7" width="30.55" height="30.55"/>
<rect x="177.25" y="1424.7" width="30.55" height="30.55"/>
<rect x="207.8" y="1424.7" width="30.55" height="30.55"/>
<rect x="238.35" y="1424.7" width="30.55" height="30.55"/>
<rect x="268.9" y="1424.7" width="30.55" height="30.55"/>
<rect x="299.45" y="1424.7" width="30.55" height="30.55"/>
<rect x="330" y="1424.7" width="30.55" height="30.55"/>
<rect x="360.55" y="1424.7" width="30.55" height="30.55"/>
<rect x="391.1" y="1424.7" width="30.55" height="30.55"/>
<rect x="421.65" y="1424.7" width="30.55" height="30.55"/>
<rect x="452.2" y="1424.7" width="30.55" height="30.55"/>
<rect x="482.75" y="1424.7" width="30.55" height="30.55"/>
<rect x="513.3" y="1424.7" width="30.55" height="30.55"/>
<rect x="543.85" y="1424.7" width="30.55" height="30.55"/>
<rect x="574.4" y="1424.7" width="30.55" height="30.55"/>
<rect x="604.95" y="1424.7" width="30.55" height="30.55"/>
<rect x="177.25" y="1455.25" width="30.55" height="30.55"/>
<rect x="207.8" y="1455.25" width="30.55" height="30.55"/>
<rect x="238.35" y="1455.25" width="30.55" height="30.55"/>
<rect x="268.9" y="1455.25" width="30.55" height="30.55"/>
<rect x="299.45" y="1455.25" width="30.55" height="30.55"/>
<rect x="330" y="1455.25" width="30.55" height="30.55"/>
<rect x="360.55" y="1455.25" width="30.55" height="30.55"/>
<rect x="391.1" y="1455.25" width="30.55" height="30.55"/>
<rect x="421.65" y="1455.25" width="30.55" height="30.55"/>
<rect x="452.2" y="1455.25" width="30.55" height="30.55"/>
<rect x="482.75" y="1455.25" width="30.55" height="30.55"/>
<rect x="513.3" y="1455.25" width="30.55" height="30.55"/>
<rect x="543.85" y="1455.25" width="30.55" height="30.55"/>
<rect x="574.4" y="1455.25" width="30.55" height="30.55"/>
<rect x="604.95" y="1455.25" width="30.55" height="30.55"/>
<rect x="207.8" y="1485.8" width="30.55" height="30.55"/>
<rect x="238.35" y="1485.8" width="30.55" height="30.55"/>
<rect x="268.9" y="1485.8" width="30.55" height="30.55"/>
<rect x="299.45" y="1485.8" width="30.55" height="30.55"/>
<rect x="330" y="1485.8" width="30.55" height="30.55"/>
<rect x="360.55" y="1485.8" width="30.55" height="30.55"/>
<rect x="391.1" y="1485.8" width="30.55" height="30.55"/>
<rect x="421.65" y="1485.8" width="30.55" height="30.55"/>
<rect x="452.2" y="1485.8" width="30.55" height="30.55"/>
<rect x="482.75" y="1485.8" width="30.55" height="30.55"/>
<rect x="513.3" y="1485.8" width="30.55" height="30.55"/>
<rect x="543.85" y="1485.8" width="30.55" height="30.55"/>
<rect x="574.4" y="1485.8" width="30.55" height="30.55"/>
<rect x="604.95" y="1485.8" width="30.55" height="30.55"/>
<rect x="238.35" y="1516.35" width="30.55" height="30.55"/>
<rect x="268.9" y="1516.35" width="30.55" height="30.55"/>
<rect x="299.45" y="1516.35" width="30.55" height="30.55"/>
<rect x="330" y="1516.35" width="30.55" height="30.55"/>
<rect x="360.55" y="1516.35" width="30.55" height="30.55"/>
<rect x="391.1" y="1516.35" width="30.55" height="30.55"/>
<rect x="421.65" y="1516.35" width="30.55" height="30.55"/>
<rect x="452.2" y="1516.35" width="30.55" height="30.55"/>
<rect x="482.75" y="1516.35" width="30.55" height="30.55"/>
<rect x="513.3" y="1516.35" width="30.55" height="30.55"/>
<rect x="543.85" y="1516.35" width="30.55" height="30.55"/>
<rect x="574.4" y="1516.35" width="30.55" height="30.55"/>
<rect x="604.95" y="1516.35" width="30.55" height="30.55"/>
<rect x="268.9" y="1546.9" width="30.55" height="30.55"/>
<rect x="299.45" y="1546.9" width="30.55" height="30.55"/>
<rect x="330" y="1546.9" width="30.55" height="30.55"/>
<rect x="360.55" y="1546.9" width="30.55" height="30.55"/>
<rect x="391.1" y="1546.9" width="30.55" height="30.55"/>
<rect x="421.65" y="1546.9" width="30.55" height="30.55"/>
<rect x="452.2" y="1546.9" width="30.55" height="30.55"/>
<rect x="482.75" y="1546.9" width="30.55" height="30.55"/>
<rect x="513.3" y="1546.9" width="30.55" height="30.55"/>
<rect x="543.85" y="1546.9" width="30.55" height="30.55"/>
<rect x="574.4" y="1546.9" width="30.55" height="30.55"/>
<rect x="604.95" y="1546.9" width="30.55" height="30.55"/>
<rect x="299.45" y="1577.45" width="30.55" height="30.55"/>
<rect x="330" y="1577.45" width="30.55" height="30.55"/>
<rect x="360.55" y="1577.45" width="30.55" height="30.55"/>
<rect x="391.1" y="1577.45" width="30.55" height="30.55"/>
<rect x="421.65" y="1577.45" width="30.55" height="30.55"/>
<rect x="452.2" y="1577.45" width="30.55" height="30.55"/>
<rect x="482.75" y="1577.45" width="30.55" height="30.55"/>
<rect x="513.3" y="1577.45" width="30.55" height="30.55"/>
<rect x="543.85" y="1577.45" width="30.55" height="30.55"/>
<rect x="574.4" y="1577.45" width="30.55" height="30.55"/>
<rect x="604.95" y="1577.45" width="30.55" height="30.55"/>
<rect x="330" y="1608" width="30.55" height="30.55"/>
<rect x="360.55" y="1608" width="30.55" height="30.55"/>
<rect x="391.1" y="1608" width="30.55" height="30.55"/>
<rect x="421.65" y="1608" width="30.55" height="30.55"/>
<rect x="452.2" y="1608" width="30.55" height="30.55"/>
<rect x="482.75" y="1608" width="30.55" height="30.55"/>
<rect x="513.3" y="1608" width="30.55" height="30.55"/>
<rect x="543.85" y="1608" width="30.55" height="30.55"/>
<rect x="574.4" y="1608" width="30.55" height="30.55"/>
<rect x="604.95" y="1608" width="30.55" height="30.55"/>
<rect x="360.55" y="1638.55" width="30.55" height="30.55"/>
<rect x="391.1" y="1638.55" width="30.55" height="30.55"/>
<rect x="421.65" y="1638.55" width="30.55" height="30.55"/>
<rect x="452.2" y="1638.55" width="30.55" height="30.55"/>
<rect x="482.75" y="1638.55" width="30.55" height="30.55"/>
<rect x="513.3" y="1638.55" width="30.55" height="30.55"/>
<rect x="543.85" y="1638.55" width="30.55" height="30.55"/>
<rect x="574.4" y="1638.55" width="30.55" height="30.55"/>
<rect x="604.95" y="1638.55" width="30.55" height="30.55"/>
<rect x="391.1" y="1669.1" width="30.55" height="30.55"/>
<rect x="421.65" y="1669.1" width="30.55" height="30.55"/>
<rect x="452.2" y="1669.1" width="30.55" height="30.55"/>
<rect x="482.75" y="1669.1" width="30.55" height="30.55"/>
<rect x="513.3" y="1669.1" width="30.55" height="30.55"/>
<rect x="543.85" y="1669.1" width="30.55" height="30.55"/>
<rect x="574.4" y="1669.1" width="30.55" height="30.55"/>
<rect x="604.95" y="1669.1" width="30.55" height="30.55"/>
<rect x="421.65" y="1699.65" width="30.55" height="30.55"/>
<rect x="452.2" y="1699.65" width="30.55" height="30.55"/>
<rect x="482.75" y="1699.65" width="30.55" height="30.55"/>
<rect x="513.3" y="1699.65" width="30.55" height="30.55"/>
<rect x="543.85" y="1699.65" width="30.55" height="30.55"/>
<rect x="574.4" y="1699.65" width="30.55" height="30.55"/>
<rect x="604.95" y="1699.65" width="30.55" height="30.55"/>
<rect x="452.2" y="1730.2" width="30.55" height="30.55"/>
<rect x="482.75" y="1730.2" width="30.55" height="30.55"/>
<rect x="513.3" y="1730.2" width="30.55" height="30.55"/>
<rect x="543.85" y="1730.2" width="30.55" height="30.55"/>
<rect x="574.4" y="1730.2" width="30.55" height="30.55"/>
<rect x="604.95" y="1730.2" width="30.55" height="30.55"/>
<rect x="482.75" y="1760.75" width="30.55" height="30.55"/>
<rect x="513.3" y="1760.75" width="30.55" height="30.55"/>
<rect x="543.85" y="1760.75" width="30.55" height="30.55"/>
<rect x="574.4" y="1760.75" width="30.55" height="30.55"/>
<rect x="604.95" y="1760.75" width="30.55" height="30.55"/>
<rect x="513.3" y="1791.3" width="30.55" height="30.55"/>
<rect x="543.85" y="1791.3" width="30.55" height="30.55"/>
<rect x="574.4" y="1791.3" width="30.55" height="30.55"/>
<rect x="604.95" y="1791.3" width="30.55" height="30.55"/>
<rect x="543.85" y="1821.85" width="30.55" height="30.55"/>
<rect x="574.4" y="1821.85" width="30.55" height="30.55"/>
<rect x="604.95" y="1821.85" width="30.55" height="30.55"/>
<rect x="574.4" y="1852.4" width="30.55" height="30.55"/>
<rect x="604.95" y="1852.4" width="30.55" height="30.55"/>
<rect x="604.95" y="1882.95" width="30.55" height="30.55"/>
</g>
<g fill="none" stroke-linecap="butt">
<path d="M234.6 1766.2 Q248.26 1582.45 131.42 1439.98" stroke="#1B9E77" stroke-width="6"/>
<path d="M234.6 1766.2 Q257.42 1603.84 161.97 1470.53" stroke="#D95F02" stroke-width="3"/>
<path d="M234.6 1766.2 Q266.59 1625.22 192.52 1501.08" stroke="#1B9E77" stroke-width="6"/>
<path d="M234.6 1766.2 Q275.75 1646.61 223.07 1531.62" stroke="#1B9E77" stroke-width="3"/>
<path d="M234.6 1766.2 Q284.92 1667.99 253.62 1562.17" stroke="#1B9E77" stroke-width="3"/>
<path d="M234.6 1766.2 Q294.08 1689.38 284.17 1592.73" stroke="#1B9E77" stroke-width="3"/>
<path d="M234.6 1766.2 Q303.25 1710.76 314.73 1623.28" stroke="#D95F02" stroke-width="3"/>
<path d="M234.6 1766.2 Q312.41 1732.15 345.27 1653.83" stroke="#D95F02" stroke-width="3"/>
<path d="M234.6 1766.2 Q321.58 1753.53 375.82 1684.38" stroke="#1B9E77" stroke-width="6"/>
<path d="M234.6 1766.2 Q330.74 1774.92 406.38 1714.93" stroke="#1B9E77" stroke-width="6"/>
<path d="M234.6 1766.2 Q339.91 1796.3 436.93 1745.48" stroke="#CCCCCC" stroke-width="1.5"/>
<path d="M234.6 1766.2 Q349.07 1817.69 467.48 1776.03" stroke="#1B9E77" stroke-width="3"/>
<path d="M234.6 1766.2 Q358.24 1839.07 498.02 1806.58" stroke="#D95F02" stroke-width="3"/>
<path d="M234.6 1766.2 Q367.4 1860.46 528.58 1837.12" stroke="#1B9E77" stroke-width="3"/>
<path d="M234.6 1766.2 Q376.57 1881.84 559.12 1867.68" stroke="#1B9E77" stroke-width="6"/>
<path d="M234.6 1766.2 Q385.73 1903.23 589.67 1898.23" stroke="#1B9E77" stroke-width="6"/>
</g>
<g stroke="#505050" stroke-width="1.7">
<circle cx="161.97" cy="1439.98" r="14.6" fill="#F8766D"/>
<circle cx="192.52" cy="1439.98" r="12.64" fill="#FA9C95"/>
<circle cx="223.07" cy="1439.98" r="10.32" fill="#FCC0BC"/>
<circle cx="253.62" cy="1439.98" r="11.12" fill="#9EC0FF"/>
<circle cx="284.17" cy="1439.98" r="12.13" fill="#FAA59F"/>
<circle cx="314.73" cy="1439.98" r="11.86" fill="#FBA9A3"/>
<circle cx="345.27" cy="1439.98" r="11.86" fill="#FBA9A3"/>
<circle cx="375.82" cy="1439.98" r="9.57" fill="#B7D0FF"/>
<circle cx="406.38" cy="1439.98" r="11.21" fill="#9CBFFF"/>
<circle cx="436.93" cy="1439.98" r="11.21" fill="#FBB3AE"/>
<circle cx="467.48" cy="1439.98" r="10.73" fill="#FBBAB6"/>
<circle cx="498.02" cy="1439.98" r="11.86" fill="#FBA9A3"/>
<circle cx="528.58" cy="1439.98" r="11.86" fill="#FBA9A3"/>
<circle cx="559.12" cy="1439.98" r="11.86" fill="#FBA9A3"/>
<circle cx="589.67" cy="1439.98" r="14.16" fill="#F87F77"/>
<circle cx="620.23" cy="1439.98" r="10.73" fill="#FBBAB6"/>
<circle cx="192.52" cy="1470.53" r="14.6" fill="#F8766D"/>
<circle cx="223.07" cy="1470.53" r="10.93" fill="#FBB7B3"/>
<circle cx="253.62" cy="1470.53" r="11.86" fill="#91B7FF"/>
<circle cx="284.17" cy="1470.53" r="13.62" fill="#F98A82"/>
<circle cx="314.73" cy="1470.53" r="13.46" fill="#F98D85"/>
<circle cx="345.27" cy="1470.53" r="13.38" fill="#F98E87"/>
<circle cx="375.82" cy="1470.53" r="9.35" fill="#BBD2FF"/>
<circle cx="406.38" cy="1470.53" r="11.86" fill="#91B7FF"/>
<circle cx="436.93" cy="1470.53" r="11.77" fill="#FBAAA5"/>
<circle cx="467.48" cy="1470.53" r="9.57" fill="#FCCAC6"/>
<circle cx="498.02" cy="1470.53" r="14.31" fill="#F87C74"/>
<circle cx="528.58" cy="1470.53" r="13.38" fill="#F98E87"/>
<circle cx="559.12" cy="1470.53" r="13.38" fill="#F98E87"/>
<circle cx="589.67" cy="1470.53" r="14.16" fill="#F87F77"/>
<circle cx="620.23" cy="1470.53" r="11.68" fill="#FBACA6"/>
<circle cx="223.07" cy="1501.08" r="14.6" fill="#F8766D"/>
<circle cx="253.62" cy="1501.08" r="13.77" fill="#6A9EFF"/>
<circle cx="284.17" cy="1501.08" r="11.5" fill="#FBAFAA"/>
<circle cx="314.73" cy="1501.08" r="13.38" fill="#F98E87"/>
<circle cx="345.27" cy="1501.08" r="9.57" fill="#FCCAC6"/>
<circle cx="375.82" cy="1501.08" r="12.64" fill="#82ADFF"/>
<circle cx="406.38" cy="1501.08" r="13.38" fill="#73A3FF"/>
<circle cx="436.93" cy="1501.08" r="14.31" fill="#F87C74"/>
<circle cx="467.48" cy="1501.08" r="9.57" fill="#FCCAC6"/>
<circle cx="498.02" cy="1501.08" r="11.86" fill="#FBA9A3"/>
<circle cx="528.58" cy="1501.08" r="9.57" fill="#FCCAC6"/>
<circle cx="559.12" cy="1501.08" r="13.62" fill="#F98A82"/>
<circle cx="589.67" cy="1501.08" r="11.86" fill="#FBA9A3"/>
<circle cx="620.23" cy="1501.08" r="14.16" fill="#F87F77"/>
<circle cx="253.62" cy="1531.62" r="14.6" fill="#F8766D"/>
<circle cx="284.17" cy="1531.62" r="11.86" fill="#91B7FF"/>
<circle cx="314.73" cy="1531.62" r="13.38" fill="#73A3FF"/>
<circle cx="345.27" cy="1531.62" r="9.57" fill="#B7D0FF"/>
<circle cx="375.82" cy="1531.62" r="13.38" fill="#F98E87"/>
<circle cx="406.38" cy="1531.62" r="13.77" fill="#F9877F"/>
<circle cx="436.93" cy="1531.62" r="14.16" fill="#6299FF"/>
<circle cx="467.48" cy="1531.62" r="4.62" fill="#FEF5F4"/>
<circle cx="498.02" cy="1531.62" r="12.13" fill="#8CB4FF"/>
<circle cx="528.58" cy="1531.62" r="9.57" fill="#B7D0FF"/>
<circle cx="559.12" cy="1531.62" r="13.06" fill="#79A8FF"/>
<circle cx="589.67" cy="1531.62" r="12.39" fill="#87B1FF"/>
<circle cx="620.23" cy="1531.62" r="14.16" fill="#6299FF"/>
<circle cx="284.17" cy="1562.17" r="14.6" fill="#F8766D"/>
<circle cx="314.73" cy="1562.17" r="13.77" fill="#F9877F"/>
<circle cx="345.27" cy="1562.17" r="13.77" fill="#F9877F"/>
<circle cx="375.82" cy="1562.17" r="9.57" fill="#B7D0FF"/>
<circle cx="406.38" cy="1562.17" r="11.86" fill="#91B7FF"/>
<circle cx="436.93" cy="1562.17" r="11.95" fill="#FBA8A2"/>
<circle cx="467.48" cy="1562.17" r="9.57" fill="#FCCAC6"/>
<circle cx="498.02" cy="1562.17" r="14.31" fill="#F87C74"/>
<circle cx="528.58" cy="1562.17" r="13.38" fill="#F98E87"/>
<circle cx="559.12" cy="1562.17" r="13.62" fill="#F98A82"/>
<circle cx="589.67" cy="1562.17" r="13.77" fill="#F9877F"/>
<circle cx="620.23" cy="1562.17" r="11.31" fill="#FBB2AD"/>
<circle cx="314.73" cy="1592.73" r="14.6" fill="#F8766D"/>
<circle cx="345.27" cy="1592.73" r="12.22" fill="#FAA39D"/>
<circle cx="375.82" cy="1592.73" r="11.12" fill="#9EC0FF"/>
<circle cx="406.38" cy="1592.73" r="13.38" fill="#73A3FF"/>
<circle cx="436.93" cy="1592.73" r="13.62" fill="#F98A82"/>
<circle cx="467.48" cy="1592.73" r="10.73" fill="#FBBAB6"/>
<circle cx="498.02" cy="1592.73" r="14.31" fill="#F87C74"/>
<circle cx="528.58" cy="1592.73" r="11.86" fill="#FBA9A3"/>
<circle cx="559.12" cy="1592.73" r="14.16" fill="#F87F77"/>
<circle cx="589.67" cy="1592.73" r="13.77" fill="#F9877F"/>
<circle cx="620.23" cy="1592.73" r="13.77" fill="#F9877F"/>
<circle cx="345.27" cy="1623.28" r="14.6" fill="#F8766D"/>
<circle cx="375.82" cy="1623.28" r="3.86" fill="#FFF8F8"/>
<circle cx="406.38" cy="1623.28" r="9" fill="#C0D6FF"/>
<circle cx="436.93" cy="1623.28" r="9.57" fill="#FCCAC6"/>
<circle cx="467.48" cy="1623.28" r="7.3" fill="#FEE2E0"/>
<circle cx="498.02" cy="1623.28" r="14.31" fill="#F87C74"/>
<circle cx="528.58" cy="1623.28" r="14.16" fill="#F87F77"/>
<circle cx="559.12" cy="1623.28" r="12.22" fill="#FAA39D"/>
<circle cx="589.67" cy="1623.28" r="13.38" fill="#F98E87"/>
<circle cx="620.23" cy="1623.28" r="10.01" fill="#FCC4C0"/>
<circle cx="375.82" cy="1653.83" r="14.6" fill="#F8766D"/>
<circle cx="406.38" cy="1653.83" r="13.77" fill="#F9877F"/>
<circle cx="436.93" cy="1653.83" r="14.16" fill="#6299FF"/>
<circle cx="467.48" cy="1653.83" r="2.92" fill="#FFFBFB"/>
<circle cx="498.02" cy="1653.83" r="9.46" fill="#B9D1FF"/>
<circle cx="528.58" cy="1653.83" r="3.58" fill="#FFF9F9"/>
<circle cx="559.12" cy="1653.83" r="11.12" fill="#9EC0FF"/>
<circle cx="589.67" cy="1653.83" r="10.01" fill="#B1CCFF"/>
<circle cx="620.23" cy="1653.83" r="13.77" fill="#6A9EFF"/>
<circle cx="406.38" cy="1684.38" r="14.6" fill="#F8766D"/>
<circle cx="436.93" cy="1684.38" r="14.16" fill="#6299FF"/>
<circle cx="467.48" cy="1684.38" r="8.76" fill="#C3D8FF"/>
<circle cx="498.02" cy="1684.38" r="11.86" fill="#91B7FF"/>
<circle cx="528.58" cy="1684.38" r="9" fill="#C0D6FF"/>
<circle cx="559.12" cy="1684.38" r="13.38" fill="#73A3FF"/>
<circle cx="589.67" cy="1684.38" r="12.64" fill="#82ADFF"/>
<circle cx="620.23" cy="1684.38" r="14.16" fill="#6299FF"/>
<circle cx="436.93" cy="1714.93" r="14.6" fill="#F8766D"/>
<circle cx="467.48" cy="1714.93" r="9.57" fill="#FCCAC6"/>
<circle cx="498.02" cy="1714.93" r="11.86" fill="#FBA9A3"/>
<circle cx="528.58" cy="1714.93" r="9.57" fill="#FCCAC6"/>
<circle cx="559.12" cy="1714.93" r="13.38" fill="#F98E87"/>
<circle cx="589.67" cy="1714.93" r="12.47" fill="#FA9F98"/>
<circle cx="620.23" cy="1714.93" r="14.16" fill="#F87F77"/>
<circle cx="467.48" cy="1745.48" r="14.6" fill="#F8766D"/>
<circle cx="498.02" cy="1745.48" r="10.32" fill="#FCC0BC"/>
<circle cx="528.58" cy="1745.48" r="7.59" fill="#FDDFDD"/>
<circle cx="559.12" cy="1745.48" r="11.12" fill="#FBB5B0"/>
<circle cx="589.67" cy="1745.48" r="11.12" fill="#FBB5B0"/>
<circle cx="620.23" cy="1745.48" r="10.01" fill="#FCC4C0"/>
<circle cx="498.02" cy="1776.03" r="14.6" fill="#F8766D"/>
<circle cx="528.58" cy="1776.03" r="13.38" fill="#F98E87"/>
<circle cx="559.12" cy="1776.03" r="13.62" fill="#F98A82"/>
<circle cx="589.67" cy="1776.03" r="14.16" fill="#F87F77"/>
<circle cx="620.23" cy="1776.03" r="11.5" fill="#FBAFAA"/>
<circle cx="528.58" cy="1806.58" r="14.6" fill="#F8766D"/>
<circle cx="559.12" cy="1806.58" r="12.22" fill="#FAA39D"/>
<circle cx="589.67" cy="1806.58" r="13.77" fill="#F9877F"/>
<circle cx="620.23" cy="1806.58" r="10.01" fill="#FCC4C0"/>
<circle cx="559.12" cy="1837.12" r="14.6" fill="#F8766D"/>
<circle cx="589.67" cy="1837.12" r="13.77" fill="#F9877F"/>
<circle cx="620.23" cy="1837.12" r="14.16" fill="#F87F77"/>
<circle cx="589.67" cy="1867.68" r="14.6" fill="#F8766D"/>
<circle cx="620.23" cy="1867.68" r="11.5" fill="#FBAFAA"/>
<circle cx="620.23" cy="1898.23" r="14.6" fill="#F8766D"/>
</g>
<g font-size="18" font-weight="bold" letter-spacing="1.6">
<text x="144.97" y="1447.98">***</text>
<text x="175.52" y="1447.98">***</text>
<text x="217.67" y="1447.98">*</text>
<text x="248.22" y="1447.98">*</text>
<text x="272.97" y="1447.98">**</text>
<text x="303.52" y="1447.98">**</text>
<text x="334.07" y="1447.98">**</text>
<text x="400.97" y="1447.98">*</text>
<text x="431.52" y="1447.98">*</text>
<text x="462.07" y="1447.98">*</text>
<text x="486.82" y="1447.98">**</text>
<text x="517.37" y="1447.98">**</text>
<text x="547.92" y="1447.98">**</text>
<text x="572.67" y="1447.98">***</text>
<text x="614.82" y="1447.98">*</text>
<text x="175.52" y="1478.53">***</text>
<text x="211.87" y="1478.53">**</text>
<text x="242.42" y="1478.53">**</text>
<text x="267.17" y="1478.53">***</text>
<text x="297.72" y="1478.53">***</text>
<text x="328.27" y="1478.53">***</text>
<text x="395.17" y="1478.53">**</text>
<text x="425.72" y="1478.53">**</text>
<text x="481.02" y="1478.53">***</text>
<text x="511.57" y="1478.53">***</text>
<text x="542.12" y="1478.53">***</text>
<text x="572.67" y="1478.53">***</text>
<text x="609.02" y="1478.53">**</text>
<text x="206.07" y="1509.08">***</text>
<text x="236.62" y="1509.08">***</text>
<text x="272.97" y="1509.08">**</text>
<text x="297.72" y="1509.08">***</text>
<text x="358.82" y="1509.08">***</text>
<text x="389.37" y="1509.08">***</text>
<text x="419.92" y="1509.08">***</text>
<text x="486.82" y="1509.08">**</text>
<text x="542.12" y="1509.08">***</text>
<text x="578.47" y="1509.08">**</text>
<text x="603.22" y="1509.08">***</text>
<text x="236.62" y="1539.62">***</text>
<text x="272.97" y="1539.62">**</text>
<text x="297.72" y="1539.62">***</text>
<text x="358.82" y="1539.62">***</text>
<text x="389.37" y="1539.62">***</text>
<text x="419.92" y="1539.62">***</text>
<text x="486.82" y="1539.62">**</text>
<text x="542.12" y="1539.62">***</text>
<text x="578.47" y="1539.62">**</text>
<text x="603.22" y="1539.62">***</text>
<text x="267.17" y="1570.17">***</text>
<text x="297.72" y="1570.17">***</text>
<text x="328.27" y="1570.17">***</text>
<text x="395.17" y="1570.17">**</text>
<text x="425.72" y="1570.17">**</text>
<text x="481.02" y="1570.17">***</text>
<text x="511.57" y="1570.17">***</text>
<text x="542.12" y="1570.17">***</text>
<text x="572.67" y="1570.17">***</text>
<text x="609.02" y="1570.17">**</text>
<text x="297.72" y="1600.73">***</text>
<text x="334.07" y="1600.73">**</text>
<text x="370.42" y="1600.73">*</text>
<text x="389.37" y="1600.73">***</text>
<text x="419.92" y="1600.73">***</text>
<text x="462.07" y="1600.73">*</text>
<text x="481.02" y="1600.73">***</text>
<text x="517.37" y="1600.73">**</text>
<text x="542.12" y="1600.73">***</text>
<text x="572.67" y="1600.73">***</text>
<text x="603.22" y="1600.73">***</text>
<text x="328.27" y="1631.28">***</text>
<text x="481.02" y="1631.28">***</text>
<text x="511.57" y="1631.28">***</text>
<text x="547.92" y="1631.28">**</text>
<text x="572.67" y="1631.28">***</text>
<text x="358.82" y="1661.83">***</text>
<text x="389.37" y="1661.83">***</text>
<text x="419.92" y="1661.83">***</text>
<text x="553.72" y="1661.83">*</text>
<text x="603.22" y="1661.83">***</text>
<text x="389.37" y="1692.38">***</text>
<text x="419.92" y="1692.38">***</text>
<text x="486.82" y="1692.38">**</text>
<text x="542.12" y="1692.38">***</text>
<text x="578.47" y="1692.38">**</text>
<text x="603.22" y="1692.38">***</text>
<text x="419.92" y="1722.93">***</text>
<text x="486.82" y="1722.93">**</text>
<text x="542.12" y="1722.93">***</text>
<text x="578.47" y="1722.93">**</text>
<text x="603.22" y="1722.93">***</text>
<text x="450.47" y="1753.48">***</text>
<text x="553.72" y="1753.48">*</text>
<text x="584.27" y="1753.48">*</text>
<text x="481.02" y="1784.03">***</text>
<text x="511.57" y="1784.03">***</text>
<text x="542.12" y="1784.03">***</text>
<text x="572.67" y="1784.03">***</text>
<text x="609.02" y="1784.03">**</text>
<text x="511.57" y="1814.58">***</text>
<text x="547.92" y="1814.58">**</text>
<text x="572.67" y="1814.58">***</text>
<text x="542.12" y="1845.12">***</text>
<text x="572.67" y="1845.12">***</text>
<text x="603.22" y="1845.12">***</text>
<text x="572.67" y="1875.68">***</text>
<text x="609.02" y="1875.68">**</text>
<text x="603.22" y="1906.23">***</text>
</g>
<circle cx="131.42" cy="1439.98" r="4.3" fill="#FF0000" stroke="#0000FF" stroke-width="2.2"/>
<circle cx="161.97" cy="1470.53" r="4.3" fill="#FF0000" stroke="#0000FF" stroke-width="2.2"/>
<circle cx="192.52" cy="1501.08" r="4.3" fill="#FF0000" stroke="#0000FF" stroke-width="2.2"/>
<circle cx="223.07" cy="1531.62" r="4.3" fill="#FF0000" stroke="#0000FF" stroke-width="2.2"/>
<circle cx="253.62" cy="1562.17" r="4.3" fill="#FF0000" stroke="#0000FF" stroke-width="2.2"/>
<circle cx="284.17" cy="1592.73" r="4.3" fill="#FF0000" stroke="#0000FF" stroke-width="2.2"/>
<circle cx="314.73" cy="1623.28" r="4.3" fill="#FF0000" stroke="#0000FF" stroke-width="2.2"/>
<circle cx="345.27" cy="1653.83" r="4.3" fill="#FF0000" stroke="#0000FF" stroke-width="2.2"/>
<circle cx="375.82" cy="1684.38" r="4.3" fill="#FF0000" stroke="#0000FF" stroke-width="2.2"/>
<circle cx="406.38" cy="1714.93" r="4.3" fill="#FF0000" stroke="#0000FF" stroke-width="2.2"/>
<circle cx="436.93" cy="1745.48" r="4.3" fill="#FF0000" stroke="#0000FF" stroke-width="2.2"/>
<circle cx="467.48" cy="1776.03" r="4.3" fill="#FF0000" stroke="#0000FF" stroke-width="2.2"/>
<circle cx="498.02" cy="1806.58" r="4.3" fill="#FF0000" stroke="#0000FF" stroke-width="2.2"/>
<circle cx="528.58" cy="1837.12" r="4.3" fill="#FF0000" stroke="#0000FF" stroke-width="2.2"/>
<circle cx="559.12" cy="1867.68" r="4.3" fill="#FF0000" stroke="#0000FF" stroke-width="2.2"/>
<circle cx="589.67" cy="1898.23" r="4.3" fill="#FF0000" stroke="#0000FF" stroke-width="2.2"/>
<circle cx="234.6" cy="1766.2" r="4.3" fill="#FF0000" stroke="#0000FF" stroke-width="2.2"/>
<text transform="translate(101,1800.7) scale(1,1.04)" font-size="27.9">Metabolites</text>
<text transform="translate(644,1447.7) scale(1,1.04)" font-size="22.5">Candidatus.Saccharibacteria</text>
<text transform="translate(644,1478.15) scale(1,1.04)" font-size="22.5">Actinomycetota</text>
<text transform="translate(644,1508.6) scale(1,1.04)" font-size="22.5">Verrucomicrobiota</text>
<text transform="translate(644,1539.05) scale(1,1.04)" font-size="22.5">Bacteroidota</text>
<text transform="translate(644,1569.5) scale(1,1.04)" font-size="22.5">Bifidobacterium</text>
<text transform="translate(644,1599.95) scale(1,1.04)" font-size="22.5">Faecalibaculum</text>
<text transform="translate(644,1630.4) scale(1,1.04)" font-size="22.5">Lactobacillus</text>
<text transform="translate(644,1660.85) scale(1,1.04)" font-size="22.5">Duncaniella</text>
<text transform="translate(644,1691.3) scale(1,1.04)" font-size="22.5">Bacteroides</text>
<text transform="translate(644,1721.75) scale(1,1.04)" font-size="22.5">Akkermansia</text>
<text transform="translate(644,1752.2) scale(1,1.04)" font-size="22.5">Muribaculaceae.bacterium.Isolate.110..HZI.</text>
<text transform="translate(644,1782.65) scale(1,1.04)" font-size="22.5">Bifidobacterium.pseudolongum</text>
<text transform="translate(644,1813.1) scale(1,1.04)" font-size="22.5">Lactobacillus.johnsonii</text>
<text transform="translate(644,1843.55) scale(1,1.04)" font-size="22.5">Faecalibaculum.rodentium</text>
<text transform="translate(644,1874) scale(1,1.04)" font-size="22.5">Erysipelotrichaceae.bacterium</text>
<text transform="translate(644,1904.45) scale(1,1.04)" font-size="22.5">Akkermansia.muciniphila</text>
<text transform="translate(162.28,1416.1) rotate(-45) scale(1,1.04)" font-size="22.5">Candidatus.Saccharibacteria</text>
<text transform="translate(192.82,1416.1) rotate(-45) scale(1,1.04)" font-size="22.5">Actinomycetota</text>
<text transform="translate(223.38,1416.1) rotate(-45) scale(1,1.04)" font-size="22.5">Verrucomicrobiota</text>
<text transform="translate(253.93,1416.1) rotate(-45) scale(1,1.04)" font-size="22.5">Bacteroidota</text>
<text transform="translate(284.47,1416.1) rotate(-45) scale(1,1.04)" font-size="22.5">Bifidobacterium</text>
<text transform="translate(315.03,1416.1) rotate(-45) scale(1,1.04)" font-size="22.5">Faecalibaculum</text>
<text transform="translate(345.57,1416.1) rotate(-45) scale(1,1.04)" font-size="22.5">Lactobacillus</text>
<text transform="translate(376.12,1416.1) rotate(-45) scale(1,1.04)" font-size="22.5">Duncaniella</text>
<text transform="translate(406.68,1416.1) rotate(-45) scale(1,1.04)" font-size="22.5">Bacteroides</text>
<text transform="translate(437.23,1416.1) rotate(-45) scale(1,1.04)" font-size="22.5">Akkermansia</text>
<text transform="translate(460.48,1423.4) rotate(-45) scale(1,1.04)" font-size="22.5">Muribaculaceae.bacterium.Isolate.110..HZI.</text>
<text transform="translate(498.32,1416.1) rotate(-45) scale(1,1.04)" font-size="22.5">Bifidobacterium.pseudolongum</text>
<text transform="translate(528.88,1416.1) rotate(-45) scale(1,1.04)" font-size="22.5">Lactobacillus.johnsonii</text>
<text transform="translate(559.42,1416.1) rotate(-45) scale(1,1.04)" font-size="22.5">Faecalibaculum.rodentium</text>
<text transform="translate(589.97,1416.1) rotate(-45) scale(1,1.04)" font-size="22.5">Erysipelotrichaceae.bacterium</text>
<text transform="translate(620.52,1416.1) rotate(-45) scale(1,1.04)" font-size="22.5">Akkermansia.muciniphila</text>
<text transform="translate(1157.3,1416.6) scale(1,1.04)" font-size="18.6">Pearson's r</text>
<defs><linearGradient id="pg" x1="0" y1="0" x2="0" y2="1">
<stop offset="0" stop-color="#F8766D"/>
<stop offset="0.03" stop-color="#F87D75"/>
<stop offset="0.05" stop-color="#F9847C"/>
<stop offset="0.07" stop-color="#F98B83"/>
<stop offset="0.1" stop-color="#F9928B"/>
<stop offset="0.12" stop-color="#FA9992"/>
<stop offset="0.15" stop-color="#FAA099"/>
<stop offset="0.17" stop-color="#FAA6A1"/>
<stop offset="0.2" stop-color="#FBADA8"/>
<stop offset="0.23" stop-color="#FBB4AF"/>
<stop offset="0.25" stop-color="#FBBAB6"/>
<stop offset="0.28" stop-color="#FCC1BD"/>
<stop offset="0.3" stop-color="#FCC7C4"/>
<stop offset="0.33" stop-color="#FCCECA"/>
<stop offset="0.35" stop-color="#FDD4D1"/>
<stop offset="0.38" stop-color="#FDDAD8"/>
<stop offset="0.4" stop-color="#FDE0DE"/>
<stop offset="0.42" stop-color="#FEE6E4"/>
<stop offset="0.45" stop-color="#FEECEB"/>
<stop offset="0.47" stop-color="#FEF2F1"/>
<stop offset="0.5" stop-color="#FFF7F6"/>
<stop offset="0.53" stop-color="#FFFCFC"/>
<stop offset="0.54" stop-color="#FFFFFF"/>
<stop offset="0.55" stop-color="#FDFEFF"/>
<stop offset="0.57" stop-color="#F5F9FF"/>
<stop offset="0.6" stop-color="#EEF4FF"/>
<stop offset="0.62" stop-color="#E6EFFF"/>
<stop offset="0.65" stop-color="#DEEAFF"/>
<stop offset="0.68" stop-color="#D7E5FF"/>
<stop offset="0.7" stop-color="#CFE0FF"/>
<stop offset="0.72" stop-color="#C7DBFF"/>
<stop offset="0.75" stop-color="#C0D6FF"/>
<stop offset="0.78" stop-color="#B8D1FF"/>
<stop offset="0.8" stop-color="#B0CCFF"/>
<stop offset="0.82" stop-color="#A8C7FF"/>
<stop offset="0.85" stop-color="#A1C2FF"/>
<stop offset="0.88" stop-color="#99BDFF"/>
<stop offset="0.9" stop-color="#91B7FF"/>
<stop offset="0.93" stop-color="#8AB2FF"/>
<stop offset="0.95" stop-color="#82ADFF"/>
<stop offset="0.97" stop-color="#7AA8FF"/>
<stop offset="1" stop-color="#73A3FF"/>
</linearGradient></defs>
<rect x="1156.4" y="1429.8" width="30.3" height="151.6" fill="url(#pg)"/>
<g stroke="#fff" stroke-width="1.2">
<line x1="1180.6" y1="1471" x2="1186.7" y2="1471"/>
<line x1="1180.6" y1="1553.39" x2="1186.7" y2="1553.39"/>
<line x1="1156.4" y1="1446.5" x2="1162.5" y2="1446.5"/>
<line x1="1156.4" y1="1494.6" x2="1162.5" y2="1494.6"/>
<line x1="1156.4" y1="1576" x2="1162.5" y2="1576"/>
</g>
<text transform="translate(1196.5,1435.4) scale(1,1.04)" font-size="15.5">1.0</text>
<text transform="translate(1196.5,1476.6) scale(1,1.04)" font-size="15.5">0.5</text>
<text transform="translate(1196.5,1517.79) scale(1,1.04)" font-size="15.5">0.0</text>
<text transform="translate(1196.5,1558.99) scale(1,1.04)" font-size="15.5">−0.5</text>
<text transform="translate(1157.3,1636.6) scale(1,1.04)" font-size="18.6">Mantel's r</text>
<line x1="1159" y1="1664.5" x2="1184" y2="1664.5" stroke="#5F5F5F" stroke-width="1"/>
<text transform="translate(1196.5,1670.1) scale(1,1.04)" font-size="15.5">&lt; 0.2</text>
<line x1="1159" y1="1695" x2="1184" y2="1695" stroke="#5F5F5F" stroke-width="2.7"/>
<text transform="translate(1196.5,1700.6) scale(1,1.04)" font-size="15.5">0.2 − 0.4</text>
<line x1="1159" y1="1725.5" x2="1184" y2="1725.5" stroke="#5F5F5F" stroke-width="6"/>
<text transform="translate(1196.5,1731.1) scale(1,1.04)" font-size="15.5">&gt;= 0.4</text>
<text transform="translate(1157.3,1795.2) scale(1,1.04)" font-size="18.6">p−value</text>
<line x1="1159" y1="1823.5" x2="1184" y2="1823.5" stroke="#1B9E77" stroke-width="3.2"/>
<text transform="translate(1196.5,1829.1) scale(1,1.04)" font-size="15.5">&lt; 0.01</text>
<line x1="1159" y1="1853.9" x2="1184" y2="1853.9" stroke="#D95F02" stroke-width="3.2"/>
<text transform="translate(1196.5,1859.5) scale(1,1.04)" font-size="15.5">0.01 − 0.05</text>
<line x1="1159" y1="1884.5" x2="1184" y2="1884.5" stroke="#CCCCCC" stroke-width="3.2"/>
<text transform="translate(1196.5,1890.1) scale(1,1.04)" font-size="15.5">&gt;= 0.05</text>
</svg></body></html>
